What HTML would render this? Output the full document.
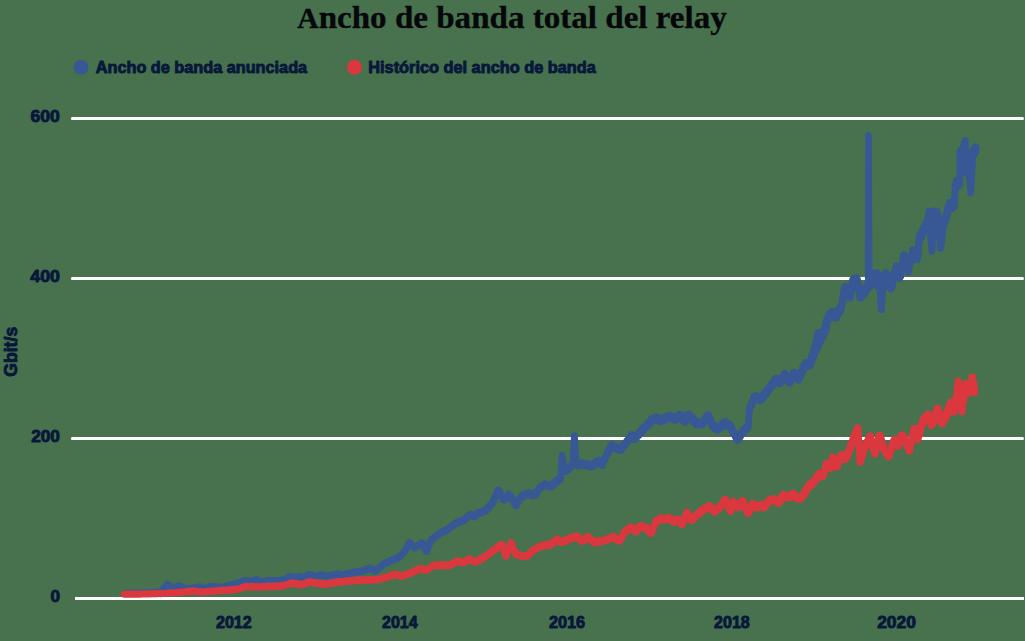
<!DOCTYPE html>
<html>
<head>
<meta charset="utf-8">
<title>Ancho de banda total del relay</title>
<style>
html,body{margin:0;padding:0;background:#47724d;overflow:hidden;}
svg{display:block;}
.t{font-family:"Liberation Serif",serif;font-weight:bold;fill:#06070b;stroke:#06070b;stroke-width:0.35px;}
.s{font-family:"Liberation Sans",sans-serif;font-weight:bold;fill:#08183a;stroke:#08183a;stroke-width:0.9px;stroke-linejoin:round;}
</style>
</head>
<body>
<svg width="1025" height="641" viewBox="0 0 1025 641">
<rect x="0" y="0" width="1025" height="641" fill="#47724d"/>
<!-- title -->
<text class="t" x="297.3" y="27.8" font-size="32" textLength="429.5" lengthAdjust="spacingAndGlyphs"><tspan font-size="28.6">A</tspan>ncho de banda total del relay</text>
<!-- legend -->
<circle cx="81" cy="67.3" r="7.5" fill="#375894"/>
<text class="s" x="95.8" y="72.6" font-size="15.6" textLength="211.3" lengthAdjust="spacingAndGlyphs">Ancho de banda anunciada</text>
<circle cx="354.5" cy="67.3" r="7.5" fill="#da373e"/>
<text class="s" x="368.3" y="72.6" font-size="15.6" textLength="227.5" lengthAdjust="spacingAndGlyphs">Histórico del ancho de banda</text>
<!-- gridlines -->
<g stroke="#ffffff" stroke-width="3" stroke-linecap="round">
<line x1="72.4" y1="118.5" x2="1022.5" y2="118.5"/>
<line x1="72.4" y1="278.5" x2="1022.5" y2="278.5"/>
<line x1="72.4" y1="438.5" x2="1022.5" y2="438.5"/>
<line x1="75" y1="598.5" x2="1024" y2="598.5" stroke-linecap="butt"/>
</g>
<!-- data -->
<g fill="none" stroke-linejoin="round" stroke-linecap="round" stroke-width="6.7">
<path stroke="#375894" d="M124.5 593.6 L124.8 593.5 L125.1 593.7 L125.4 593.5 L125.7 593.6 L126.0 593.4 L126.3 593.6 L126.6 593.4 L126.9 593.5 L127.2 593.4 L127.6 593.5 L127.9 593.3 L128.2 593.5 L128.5 593.3 L128.8 593.4 L129.1 593.3 L129.4 593.4 L129.7 593.2 L130.0 593.3 L130.3 593.2 L130.6 593.4 L130.9 593.2 L131.2 593.4 L131.5 593.2 L131.8 593.3 L132.1 593.2 L132.4 593.4 L132.7 593.2 L133.0 593.4 L133.3 593.2 L133.6 593.3 L133.9 593.2 L134.2 593.3 L134.5 593.2 L134.8 593.3 L135.2 593.2 L135.5 593.3 L135.8 593.2 L136.1 593.3 L136.4 593.2 L136.7 593.3 L137.0 593.2 L137.3 593.3 L137.6 593.1 L137.9 593.3 L138.2 593.1 L138.5 593.3 L138.8 593.1 L139.1 593.3 L139.4 593.1 L139.7 593.3 L140.0 593.2 L140.3 593.3 L140.6 593.1 L140.9 593.2 L141.2 593.1 L141.5 593.2 L141.8 593.1 L142.1 593.2 L142.4 593.0 L142.7 593.2 L143.0 593.0 L143.3 593.2 L143.6 593.0 L143.9 593.2 L144.2 593.0 L144.5 593.2 L144.8 593.0 L145.2 593.1 L145.5 592.9 L145.8 593.1 L146.1 592.9 L146.4 593.1 L146.7 592.9 L147.0 593.1 L147.3 592.9 L147.6 593.1 L147.9 592.9 L148.2 593.0 L148.5 592.9 L148.8 593.0 L149.1 592.8 L149.4 593.0 L149.7 592.8 L150.0 593.0 L150.3 592.8 L150.6 593.0 L150.9 592.8 L151.2 593.0 L151.5 592.8 L151.8 592.9 L152.1 592.7 L152.4 592.9 L152.7 592.7 L153.0 592.9 L153.3 592.7 L153.6 592.9 L153.9 592.7 L154.2 592.8 L154.5 592.7 L154.8 592.9 L155.2 592.7 L155.5 592.8 L155.8 592.7 L156.1 592.8 L156.4 592.6 L156.7 592.8 L157.0 592.6 L157.3 592.8 L157.6 592.6 L157.9 592.8 L158.2 592.6 L158.5 592.7 L158.8 592.5 L159.1 592.7 L159.4 592.5 L159.7 592.7 L160.0 592.6 L160.3 592.3 L160.6 591.7 L161.0 591.6 L161.3 591.0 L161.6 590.9 L161.9 590.2 L162.2 590.1 L162.5 589.5 L162.9 589.4 L163.2 588.7 L163.5 588.5 L163.8 588.1 L164.1 587.9 L164.4 587.4 L164.8 587.3 L165.1 586.7 L165.4 586.6 L165.7 586.0 L166.0 586.0 L166.3 585.4 L166.7 585.3 L167.0 584.8 L167.3 584.7 L167.6 584.2 L167.9 584.6 L168.2 584.6 L168.6 585.2 L168.9 585.2 L169.2 585.8 L169.5 585.7 L169.8 586.2 L170.1 586.3 L170.5 586.8 L170.8 586.8 L171.1 587.3 L171.4 587.4 L171.7 587.9 L172.1 587.9 L172.4 588.5 L172.7 588.6 L173.0 588.6 L173.3 588.2 L173.6 588.3 L173.9 587.8 L174.2 588.0 L174.5 587.6 L174.8 587.7 L175.1 587.3 L175.4 587.4 L175.8 587.0 L176.1 587.1 L176.4 586.6 L176.7 586.8 L177.0 586.4 L177.3 586.5 L177.6 586.0 L177.9 586.2 L178.2 585.7 L178.5 585.7 L178.8 585.7 L179.1 586.1 L179.4 585.9 L179.7 586.3 L180.1 586.2 L180.4 586.6 L180.7 586.4 L181.0 586.8 L181.3 586.7 L181.6 587.0 L181.9 586.9 L182.2 587.3 L182.6 587.2 L182.9 587.5 L183.2 587.4 L183.5 587.8 L183.8 587.7 L184.1 588.1 L184.4 587.9 L184.7 588.3 L185.0 588.2 L185.4 588.5 L185.7 588.4 L186.0 588.7 L186.3 588.6 L186.6 588.9 L186.9 588.7 L187.2 589.0 L187.5 588.7 L187.8 588.9 L188.1 588.7 L188.4 588.9 L188.8 588.6 L189.1 588.8 L189.4 588.5 L189.7 588.7 L190.0 588.4 L190.3 588.7 L190.6 588.4 L190.9 588.6 L191.2 588.4 L191.5 588.6 L191.8 588.3 L192.2 588.5 L192.5 588.2 L192.8 588.5 L193.1 588.2 L193.4 588.4 L193.7 588.1 L194.0 588.2 L194.3 588.0 L194.6 588.2 L194.9 587.8 L195.2 588.1 L195.5 587.7 L195.9 587.9 L196.2 587.6 L196.5 587.7 L196.8 587.4 L197.1 587.6 L197.4 587.3 L197.7 587.5 L198.0 587.2 L198.3 587.3 L198.6 587.0 L199.0 587.2 L199.3 586.8 L199.6 587.0 L199.9 586.7 L200.2 586.9 L200.5 586.7 L200.8 587.0 L201.1 586.9 L201.4 587.3 L201.7 587.2 L202.0 587.6 L202.3 587.5 L202.6 587.9 L202.9 587.7 L203.2 588.1 L203.5 588.1 L203.8 588.4 L204.1 588.3 L204.4 588.7 L204.7 588.7 L205.0 588.9 L205.3 588.6 L205.6 588.8 L205.9 588.4 L206.2 588.5 L206.6 588.1 L206.9 588.2 L207.2 587.8 L207.5 587.9 L207.8 587.5 L208.1 587.6 L208.4 587.3 L208.8 587.4 L209.1 587.0 L209.4 587.1 L209.7 586.7 L210.0 586.7 L210.3 586.6 L210.6 586.8 L210.9 586.6 L211.2 586.9 L211.5 586.5 L211.8 586.9 L212.1 586.6 L212.4 586.8 L212.7 586.6 L213.0 586.9 L213.3 586.6 L213.7 586.8 L214.0 586.6 L214.3 586.8 L214.6 586.5 L214.9 586.8 L215.2 586.6 L215.5 586.9 L215.8 586.6 L216.1 586.8 L216.4 586.6 L216.7 586.8 L217.0 586.6 L217.3 586.7 L217.6 586.7 L217.9 587.0 L218.2 586.8 L218.5 587.2 L218.8 587.0 L219.2 587.3 L219.5 587.2 L219.8 587.5 L220.1 587.3 L220.4 587.6 L220.7 587.5 L221.0 587.7 L221.3 587.5 L221.6 587.7 L221.9 587.3 L222.2 587.5 L222.5 587.2 L222.8 587.4 L223.2 587.1 L223.5 587.2 L223.8 586.9 L224.1 587.1 L224.4 586.7 L224.7 586.9 L225.0 586.6 L225.3 586.8 L225.6 586.4 L225.9 586.6 L226.2 586.2 L226.5 586.5 L226.8 586.1 L227.2 586.3 L227.5 586.0 L227.8 586.2 L228.1 585.8 L228.4 586.0 L228.7 585.6 L229.0 585.7 L229.3 585.5 L229.6 585.6 L229.9 585.3 L230.2 585.5 L230.5 585.1 L230.8 585.3 L231.1 584.9 L231.4 585.1 L231.7 584.7 L232.0 584.9 L232.3 584.5 L232.6 584.7 L232.9 584.3 L233.2 584.6 L233.6 584.1 L233.9 584.4 L234.2 584.0 L234.5 584.2 L234.8 583.7 L235.1 584.0 L235.4 583.6 L235.7 583.8 L236.0 583.4 L236.3 583.6 L236.6 583.2 L236.9 583.5 L237.2 583.0 L237.5 583.3 L237.8 583.0 L238.1 583.0 L238.4 582.6 L238.7 582.9 L239.0 582.4 L239.3 582.6 L239.7 582.2 L240.0 582.4 L240.3 581.9 L240.6 582.2 L240.9 581.7 L241.2 582.0 L241.5 581.5 L241.8 581.7 L242.1 581.3 L242.4 581.5 L242.7 581.1 L243.0 581.3 L243.3 580.9 L243.7 581.1 L244.0 580.7 L244.3 580.9 L244.6 580.4 L244.9 580.7 L245.2 580.4 L245.5 580.6 L245.8 580.4 L246.1 580.9 L246.4 580.6 L246.7 581.0 L247.0 580.7 L247.3 581.1 L247.6 580.9 L247.9 581.3 L248.3 581.0 L248.6 581.4 L248.9 581.2 L249.2 581.6 L249.5 581.3 L249.8 581.8 L250.1 581.5 L250.4 581.9 L250.7 581.6 L251.0 581.9 L251.3 581.5 L251.6 581.8 L251.9 581.3 L252.2 581.5 L252.5 580.9 L252.8 581.2 L253.1 580.6 L253.4 580.9 L253.7 580.4 L254.0 580.6 L254.3 580.1 L254.6 580.3 L254.9 579.8 L255.2 580.0 L255.5 579.5 L255.8 579.7 L256.1 579.4 L256.4 579.8 L256.7 579.5 L257.0 580.0 L257.3 579.9 L257.6 580.4 L257.9 580.2 L258.2 580.8 L258.5 580.6 L258.9 581.1 L259.2 580.9 L259.5 581.4 L259.8 581.3 L260.1 581.8 L260.4 581.6 L260.7 582.1 L261.0 581.9 L261.3 582.3 L261.6 582.1 L261.9 582.3 L262.2 581.9 L262.6 582.1 L262.9 581.7 L263.2 582.0 L263.5 581.6 L263.8 581.8 L264.1 581.4 L264.5 581.7 L264.8 581.2 L265.1 581.4 L265.4 581.0 L265.7 581.3 L266.1 580.9 L266.4 581.2 L266.7 580.7 L267.0 580.8 L267.3 580.6 L267.6 580.9 L267.9 580.6 L268.2 581.0 L268.5 580.6 L268.8 581.0 L269.1 580.6 L269.4 581.0 L269.7 580.7 L270.0 581.0 L270.3 580.6 L270.6 580.9 L270.9 580.6 L271.2 581.0 L271.5 580.6 L271.8 581.0 L272.1 580.6 L272.4 581.0 L272.7 580.6 L273.0 581.0 L273.3 580.6 L273.7 580.9 L274.0 580.6 L274.3 581.0 L274.6 580.6 L274.9 581.0 L275.2 580.6 L275.5 581.0 L275.8 580.7 L276.1 581.0 L276.4 580.6 L276.7 581.0 L277.0 580.6 L277.3 581.0 L277.6 580.6 L277.9 581.0 L278.2 580.6 L278.5 581.0 L278.8 580.6 L279.1 580.9 L279.4 580.6 L279.7 581.0 L280.0 580.8 L280.3 580.9 L280.6 580.4 L280.9 580.7 L281.3 580.3 L281.6 580.6 L281.9 580.1 L282.2 580.4 L282.5 579.8 L282.8 580.2 L283.1 579.7 L283.4 580.0 L283.8 579.5 L284.1 579.8 L284.4 579.3 L284.7 579.4 L285.0 579.0 L285.3 579.2 L285.6 578.7 L286.0 578.9 L286.3 578.3 L286.6 578.5 L286.9 578.0 L287.2 578.2 L287.5 577.5 L287.9 577.8 L288.2 577.2 L288.5 577.4 L288.8 576.8 L289.1 577.0 L289.4 576.5 L289.8 576.5 L290.1 576.3 L290.4 576.8 L290.7 576.4 L291.0 576.9 L291.3 576.6 L291.6 577.0 L291.9 576.7 L292.2 577.3 L292.5 576.8 L292.8 577.3 L293.1 577.0 L293.5 577.5 L293.8 577.1 L294.1 577.5 L294.4 577.3 L294.7 577.7 L295.0 577.4 L295.3 577.8 L295.6 577.7 L295.9 577.8 L296.2 577.3 L296.5 577.6 L296.8 577.1 L297.1 577.4 L297.4 576.9 L297.7 577.3 L298.0 576.7 L298.3 577.1 L298.6 576.6 L298.9 576.9 L299.2 576.3 L299.5 576.5 L299.8 576.4 L300.1 576.9 L300.4 576.6 L300.7 577.2 L301.0 576.9 L301.3 577.4 L301.6 577.2 L301.9 577.7 L302.2 577.3 L302.5 577.9 L302.8 577.6 L303.1 578.1 L303.4 578.0 L303.7 578.1 L304.0 577.5 L304.3 577.7 L304.6 577.0 L305.0 577.3 L305.3 576.6 L305.6 576.8 L305.9 576.2 L306.2 576.5 L306.5 575.8 L306.8 576.1 L307.1 575.4 L307.4 575.6 L307.7 574.9 L308.0 575.2 L308.3 574.5 L308.7 574.7 L309.0 574.2 L309.3 574.1 L309.6 574.1 L309.9 574.7 L310.2 574.2 L310.5 574.8 L310.8 574.5 L311.1 575.1 L311.4 574.8 L311.7 575.4 L312.0 575.0 L312.3 575.7 L312.7 575.3 L313.0 575.8 L313.3 575.5 L313.6 576.1 L313.9 575.8 L314.2 576.4 L314.5 576.1 L314.8 576.6 L315.1 576.5 L315.4 576.6 L315.7 576.2 L316.0 576.5 L316.4 576.0 L316.7 576.4 L317.0 575.8 L317.3 576.2 L317.6 575.7 L317.9 576.0 L318.2 575.5 L318.5 575.9 L318.8 575.4 L319.1 575.7 L319.4 575.2 L319.7 575.6 L320.1 575.1 L320.4 575.5 L320.7 575.0 L321.0 575.1 L321.3 575.0 L321.6 575.5 L321.9 575.0 L322.2 575.5 L322.5 575.0 L322.8 575.6 L323.1 575.2 L323.4 575.6 L323.7 575.2 L324.0 575.7 L324.3 575.3 L324.6 575.8 L324.9 575.4 L325.2 575.9 L325.5 575.5 L325.8 576.0 L326.1 575.5 L326.4 576.0 L326.7 575.7 L327.0 576.1 L327.3 575.7 L327.6 576.1 L327.9 575.8 L328.2 576.3 L328.5 575.8 L328.8 576.1 L329.1 575.8 L329.4 576.1 L329.7 575.6 L330.0 576.0 L330.3 575.5 L330.6 575.9 L330.9 575.3 L331.2 575.7 L331.5 575.2 L331.8 575.5 L332.1 575.1 L332.4 575.4 L332.7 574.9 L333.0 575.3 L333.3 574.8 L333.6 575.2 L333.9 574.6 L334.2 575.0 L334.5 574.5 L334.8 574.8 L335.1 574.2 L335.4 574.7 L335.7 574.2 L336.0 574.5 L336.3 574.0 L336.6 574.1 L336.9 573.9 L337.2 574.4 L337.5 574.0 L337.8 574.6 L338.1 574.1 L338.4 574.7 L338.7 574.2 L339.1 574.8 L339.4 574.3 L339.7 574.8 L340.0 574.4 L340.3 575.0 L340.6 574.6 L340.9 575.0 L341.2 574.7 L341.5 575.2 L341.8 574.8 L342.1 575.3 L342.4 575.1 L342.7 575.3 L343.0 574.8 L343.4 575.1 L343.7 574.6 L344.0 574.9 L344.3 574.3 L344.6 574.9 L344.9 574.2 L345.2 574.6 L345.5 574.1 L345.8 574.5 L346.1 573.9 L346.4 574.4 L346.7 573.8 L347.0 574.1 L347.3 573.6 L347.6 574.1 L347.9 573.4 L348.2 573.8 L348.5 573.3 L348.8 573.7 L349.1 573.2 L349.5 573.6 L349.8 573.0 L350.1 573.4 L350.4 572.9 L350.7 573.3 L351.0 572.6 L351.3 573.1 L351.6 572.5 L351.9 573.0 L352.2 572.6 L352.5 572.8 L352.8 572.2 L353.1 572.7 L353.4 572.1 L353.7 572.7 L354.0 572.0 L354.3 572.5 L354.6 571.9 L354.9 572.5 L355.2 571.8 L355.5 572.3 L355.9 571.8 L356.2 572.3 L356.5 571.8 L356.8 572.3 L357.1 571.7 L357.4 572.1 L357.7 571.6 L358.0 572.0 L358.3 571.5 L358.6 572.0 L358.9 571.4 L359.2 571.9 L359.5 571.3 L359.8 571.8 L360.1 571.2 L360.4 571.7 L360.7 571.1 L361.0 571.7 L361.3 571.1 L361.6 571.5 L362.0 571.2 L362.3 571.4 L362.6 570.7 L362.9 571.1 L363.2 570.5 L363.5 571.0 L363.8 570.2 L364.1 570.6 L364.4 570.1 L364.7 570.4 L365.0 569.9 L365.3 570.3 L365.6 569.6 L365.9 570.0 L366.2 569.4 L366.5 569.8 L366.8 569.2 L367.1 569.6 L367.4 568.9 L367.7 569.4 L368.0 568.7 L368.3 569.1 L368.6 568.5 L368.9 568.9 L369.2 568.2 L369.5 568.7 L369.8 568.3 L370.1 568.8 L370.4 568.4 L370.7 569.1 L371.0 568.7 L371.3 569.4 L371.6 569.0 L371.9 569.6 L372.2 569.2 L372.5 569.9 L372.8 569.6 L373.1 570.3 L373.5 569.9 L373.8 570.6 L374.1 570.2 L374.4 570.9 L374.7 570.4 L375.0 571.2 L375.3 570.7 L375.6 571.2 L375.9 570.7 L376.2 571.0 L376.5 570.2 L376.8 570.4 L377.1 569.7 L377.4 569.9 L377.7 569.0 L378.0 569.4 L378.3 568.5 L378.6 568.8 L378.9 568.1 L379.2 568.3 L379.5 567.5 L379.8 567.9 L380.1 567.0 L380.4 567.3 L380.7 566.4 L381.0 566.9 L381.3 565.9 L381.6 566.2 L381.9 565.4 L382.2 565.7 L382.5 564.8 L382.8 565.2 L383.1 564.3 L383.4 564.4 L383.7 563.9 L384.0 564.4 L384.3 563.6 L384.6 564.1 L384.9 563.2 L385.2 563.8 L385.5 563.0 L385.8 563.6 L386.1 562.8 L386.4 563.3 L386.7 562.4 L387.0 562.9 L387.3 562.1 L387.6 562.7 L387.9 561.7 L388.2 562.4 L388.5 561.5 L388.8 561.9 L389.1 561.2 L389.4 561.7 L389.7 560.8 L390.0 561.5 L390.3 560.7 L390.6 561.2 L390.9 560.3 L391.2 560.5 L391.5 560.1 L391.8 560.6 L392.1 559.7 L392.4 560.4 L392.7 559.6 L393.0 560.2 L393.3 559.4 L393.6 560.0 L393.9 559.1 L394.2 559.8 L394.5 558.9 L394.8 559.6 L395.1 558.6 L395.4 559.2 L395.7 558.3 L396.0 559.1 L396.3 558.2 L396.6 558.8 L396.9 558.1 L397.2 558.6 L397.5 557.7 L397.8 558.4 L398.1 557.6 L398.4 558.1 L398.7 557.3 L399.0 557.6 L399.3 556.8 L399.6 557.2 L399.9 556.1 L400.3 556.5 L400.6 555.5 L400.9 555.8 L401.2 554.8 L401.5 555.2 L401.8 554.0 L402.1 554.7 L402.4 553.5 L402.7 553.9 L403.0 552.6 L403.3 553.2 L403.6 552.1 L404.0 552.5 L404.3 551.5 L404.6 551.8 L404.9 551.1 L405.2 551.0 L405.5 549.6 L405.8 550.1 L406.1 548.6 L406.4 548.8 L406.7 547.3 L407.0 547.8 L407.3 546.3 L407.6 546.8 L407.9 545.2 L408.2 545.6 L408.5 544.3 L408.8 544.7 L409.1 543.1 L409.5 543.6 L409.8 542.5 L410.1 543.4 L410.4 542.6 L410.7 543.9 L411.0 543.4 L411.3 544.8 L411.6 544.0 L411.9 545.3 L412.2 544.7 L412.5 545.9 L412.8 545.3 L413.1 546.5 L413.4 545.9 L413.7 547.3 L414.0 546.7 L414.3 548.0 L414.6 547.8 L414.9 548.0 L415.2 547.0 L415.5 547.6 L415.8 546.6 L416.1 547.4 L416.4 546.2 L416.7 546.9 L417.0 545.8 L417.3 546.5 L417.6 545.5 L417.9 546.2 L418.2 545.0 L418.5 545.9 L418.8 544.7 L419.1 545.5 L419.4 544.4 L419.7 545.2 L420.0 543.9 L420.3 544.7 L420.6 543.6 L420.9 544.4 L421.2 543.2 L421.5 543.9 L421.8 542.7 L422.1 543.6 L422.4 542.9 L422.7 544.1 L423.0 543.8 L423.3 545.5 L423.6 545.3 L423.9 546.7 L424.2 546.6 L424.5 548.1 L424.8 547.9 L425.1 549.5 L425.4 549.2 L425.7 550.8 L426.0 550.6 L426.3 551.7 L426.6 550.5 L427.0 550.6 L427.3 549.0 L427.6 549.3 L427.9 547.5 L428.2 547.7 L428.5 546.1 L428.8 546.4 L429.1 544.6 L429.4 545.0 L429.7 543.1 L430.0 543.5 L430.3 541.6 L430.6 542.0 L430.9 540.1 L431.2 540.0 L431.5 539.4 L431.8 540.1 L432.1 538.7 L432.4 539.6 L432.7 538.4 L433.0 539.0 L433.3 537.8 L433.6 538.7 L433.9 537.4 L434.2 538.1 L434.6 537.0 L434.9 537.6 L435.2 536.3 L435.5 537.4 L435.8 535.8 L436.1 536.7 L436.4 535.4 L436.7 536.2 L437.0 534.9 L437.3 535.8 L437.6 534.7 L437.9 535.4 L438.2 534.1 L438.5 534.8 L438.8 533.7 L439.1 534.4 L439.4 533.1 L439.7 534.1 L440.0 533.2 L440.3 533.4 L440.6 532.2 L440.9 533.2 L441.2 532.1 L441.5 533.0 L441.8 531.7 L442.1 532.6 L442.4 531.4 L442.7 532.3 L443.0 531.0 L443.3 532.0 L443.6 530.7 L443.9 531.9 L444.2 530.5 L444.5 531.3 L444.8 530.1 L445.1 531.0 L445.4 529.9 L445.7 530.9 L446.0 529.7 L446.3 530.7 L446.6 529.2 L446.9 530.3 L447.2 529.0 L447.5 530.0 L447.8 529.3 L448.1 529.7 L448.4 528.3 L448.7 529.3 L449.0 527.6 L449.3 528.9 L449.6 527.1 L449.9 528.2 L450.2 526.7 L450.5 527.7 L450.8 526.4 L451.1 527.3 L451.4 526.0 L451.7 527.0 L452.0 525.4 L452.3 526.5 L452.6 525.1 L452.9 526.0 L453.2 524.6 L453.5 525.5 L453.8 524.2 L454.1 525.3 L454.4 523.7 L454.7 524.7 L455.0 523.3 L455.3 524.4 L455.6 523.4 L455.9 523.8 L456.2 522.6 L456.5 523.8 L456.8 522.2 L457.1 523.7 L457.4 522.0 L457.7 523.5 L458.0 521.7 L458.3 523.1 L458.6 521.5 L458.9 522.7 L459.2 521.5 L459.5 522.4 L459.8 521.0 L460.1 522.5 L460.4 520.9 L460.7 522.1 L461.0 520.8 L461.3 521.8 L461.6 520.4 L461.9 521.9 L462.2 520.3 L462.5 521.3 L462.8 520.2 L463.1 521.2 L463.4 520.5 L463.7 521.1 L464.0 519.2 L464.3 520.4 L464.7 518.9 L465.0 519.7 L465.3 518.3 L465.6 519.4 L465.9 517.7 L466.2 519.0 L466.5 517.0 L466.8 518.4 L467.1 516.6 L467.5 517.9 L467.8 516.2 L468.1 517.0 L468.4 515.5 L468.7 516.7 L469.0 515.1 L469.3 516.0 L469.6 514.6 L469.9 515.8 L470.2 514.6 L470.5 515.6 L470.9 514.0 L471.2 515.9 L471.5 514.4 L471.8 516.1 L472.1 514.7 L472.4 516.3 L472.7 514.8 L473.0 516.3 L473.3 515.3 L473.6 516.6 L473.9 515.4 L474.2 516.9 L474.5 515.8 L474.8 517.3 L475.1 516.6 L475.5 516.8 L475.8 514.6 L476.2 515.2 L476.6 514.1 L476.9 514.8 L477.2 513.1 L477.5 514.3 L477.8 513.0 L478.1 514.3 L478.4 512.5 L478.7 514.0 L479.0 512.4 L479.3 513.7 L479.6 512.3 L479.9 513.7 L480.2 512.0 L480.5 513.2 L480.8 511.7 L481.1 512.9 L481.4 511.6 L481.7 512.9 L482.0 511.2 L482.3 512.7 L482.6 511.0 L482.9 512.4 L483.2 511.0 L483.5 512.3 L483.8 510.8 L484.1 512.0 L484.4 510.4 L484.7 511.8 L485.0 510.1 L485.3 510.8 L485.6 509.8 L485.9 511.0 L486.2 509.0 L486.5 510.3 L486.8 508.6 L487.2 509.9 L487.5 507.8 L487.8 508.9 L488.1 507.3 L488.4 508.7 L488.7 506.7 L489.0 507.8 L489.3 505.8 L489.7 507.4 L490.0 505.3 L490.3 506.7 L490.6 504.9 L490.9 505.8 L491.2 503.8 L491.5 505.5 L491.8 504.2 L492.1 504.2 L492.5 502.3 L492.8 502.9 L493.1 500.5 L493.4 501.6 L493.7 499.3 L494.0 500.6 L494.3 497.9 L494.6 499.2 L495.0 496.7 L495.3 497.5 L495.6 495.5 L495.9 496.5 L496.2 494.1 L496.5 495.2 L496.8 492.4 L497.1 493.5 L497.4 491.0 L497.8 492.1 L498.1 489.8 L498.4 490.0 L498.7 489.9 L499.0 492.2 L499.3 490.6 L499.6 493.3 L499.9 492.1 L500.2 494.4 L500.5 492.9 L500.8 495.5 L501.1 494.1 L501.4 496.4 L501.7 495.1 L502.0 497.6 L502.3 496.5 L502.6 498.3 L502.9 497.4 L503.2 499.5 L503.5 498.5 L503.8 499.9 L504.1 499.0 L504.4 500.2 L504.8 498.3 L505.1 499.7 L505.4 497.3 L505.7 498.9 L506.0 497.1 L506.3 498.4 L506.6 496.4 L506.9 497.7 L507.2 495.9 L507.5 497.3 L507.8 495.0 L508.1 496.4 L508.4 494.6 L508.7 496.0 L509.0 493.7 L509.3 494.4 L509.6 493.9 L509.9 496.1 L510.2 495.2 L510.5 497.3 L510.9 496.0 L511.2 498.2 L511.5 497.1 L511.8 499.7 L512.1 498.1 L512.4 500.2 L512.7 499.5 L513.0 501.3 L513.4 500.2 L513.7 502.6 L514.0 501.4 L514.3 503.5 L514.6 502.5 L514.9 504.6 L515.2 503.4 L515.5 505.8 L515.9 505.3 L516.2 505.8 L516.5 503.4 L516.8 504.9 L517.1 502.4 L517.4 503.8 L517.7 501.8 L518.0 502.8 L518.3 500.4 L518.6 501.8 L518.9 499.5 L519.2 500.7 L519.5 498.4 L519.8 499.8 L520.1 497.6 L520.4 498.8 L520.7 496.8 L521.0 497.9 L521.3 496.6 L521.6 497.2 L521.9 495.7 L522.2 497.0 L522.5 495.0 L522.8 496.9 L523.1 494.7 L523.4 496.7 L523.8 494.5 L524.1 496.5 L524.4 494.3 L524.7 495.9 L525.0 494.3 L525.3 495.7 L525.6 494.1 L525.9 495.4 L526.2 493.4 L526.5 495.5 L526.8 493.4 L527.1 495.1 L527.4 492.9 L527.7 494.9 L528.0 492.7 L528.3 494.5 L528.6 492.8 L529.0 493.3 L529.3 492.4 L529.6 494.4 L529.9 492.7 L530.2 494.6 L530.5 493.0 L530.8 495.2 L531.1 493.5 L531.4 495.2 L531.7 493.4 L532.0 495.4 L532.3 493.5 L532.6 495.6 L532.9 493.8 L533.2 496.0 L533.5 494.0 L533.8 495.9 L534.1 494.6 L534.4 495.5 L534.7 494.3 L535.0 495.7 L535.3 493.6 L535.6 494.6 L535.9 492.4 L536.2 494.1 L536.5 491.8 L536.8 493.0 L537.1 490.7 L537.4 492.3 L537.7 489.8 L538.0 491.5 L538.4 489.2 L538.7 490.4 L539.0 488.5 L539.3 489.7 L539.6 487.5 L539.9 487.9 L540.2 486.9 L540.5 488.7 L540.8 486.3 L541.1 488.1 L541.4 485.9 L541.7 487.8 L542.0 485.5 L542.3 487.2 L542.6 485.5 L542.9 486.8 L543.2 485.2 L543.5 486.6 L543.8 484.7 L544.1 486.1 L544.4 484.2 L544.7 486.2 L545.0 483.7 L545.3 484.6 L545.6 483.9 L545.9 485.9 L546.2 484.2 L546.5 485.8 L546.8 484.3 L547.1 486.2 L547.5 484.4 L547.8 486.5 L548.1 484.6 L548.4 486.5 L548.7 484.7 L549.0 486.9 L549.3 485.0 L549.6 487.0 L549.9 485.3 L550.2 487.3 L550.5 485.5 L550.8 486.8 L551.1 485.3 L551.4 487.2 L551.7 485.0 L552.0 486.2 L552.3 484.5 L552.6 486.1 L552.9 483.9 L553.2 485.4 L553.5 483.0 L553.8 484.8 L554.1 482.6 L554.4 483.9 L554.7 482.1 L555.0 483.8 L555.3 481.3 L555.6 483.0 L555.9 480.6 L556.2 481.3 L556.6 480.3 L556.9 481.7 L557.2 480.1 L557.5 481.9 L557.8 479.7 L558.1 481.6 L558.4 479.3 L558.7 481.2 L559.1 479.1 L559.4 480.9 L559.7 478.7 L560.0 480.4 L560.3 478.3 L560.6 479.1 L560.7 477.1 L560.8 477.6 L560.8 474.3 L560.9 475.2 L561.0 472.1 L561.1 473.2 L561.1 469.8 L561.2 470.4 L561.3 467.4 L561.4 468.2 L561.5 464.9 L561.5 465.9 L561.6 462.4 L561.7 463.7 L561.8 460.3 L561.8 461.2 L561.9 457.3 L562.0 458.5 L562.1 455.4 L562.1 455.1 L562.3 455.2 L562.5 458.6 L562.7 457.8 L562.9 461.5 L563.0 460.6 L563.2 463.6 L563.4 462.9 L563.6 466.2 L563.8 465.6 L564.0 468.9 L564.1 468.3 L564.3 470.4 L564.7 469.6 L565.0 471.4 L565.4 469.3 L565.7 471.7 L566.1 470.4 L566.4 471.3 L566.7 469.1 L567.0 470.6 L567.3 468.2 L567.6 470.4 L567.9 467.7 L568.3 470.1 L568.6 467.2 L568.9 469.1 L569.2 466.7 L569.5 468.9 L569.8 466.6 L570.1 468.2 L570.4 467.1 L570.8 467.9 L571.1 465.1 L571.4 466.3 L571.7 464.0 L572.1 465.8 L572.4 462.7 L572.7 464.6 L573.1 462.8 L573.1 462.4 L573.2 459.1 L573.2 460.1 L573.3 456.8 L573.4 457.9 L573.4 454.2 L573.5 455.0 L573.5 451.3 L573.6 452.8 L573.7 449.3 L573.7 450.0 L573.8 446.5 L573.8 447.9 L573.9 444.5 L573.9 445.4 L574.0 441.4 L574.1 443.0 L574.1 439.3 L574.2 440.5 L574.2 436.5 L574.3 438.2 L574.4 435.5 L574.4 437.8 L574.5 436.4 L574.6 440.9 L574.7 438.9 L574.8 443.2 L574.8 441.7 L574.9 445.7 L575.0 444.3 L575.1 447.7 L575.2 446.5 L575.2 450.7 L575.3 449.4 L575.4 452.6 L575.5 451.9 L575.6 455.2 L575.6 454.4 L575.7 457.5 L575.8 456.4 L575.9 460.3 L576.0 458.8 L576.0 462.6 L576.1 462.8 L576.4 464.4 L576.8 462.7 L577.1 465.3 L577.4 463.3 L577.8 465.7 L578.1 464.9 L578.4 466.0 L578.7 463.4 L579.0 465.9 L579.3 463.2 L579.6 465.8 L579.9 463.6 L580.2 465.9 L580.5 463.5 L580.8 465.8 L581.1 463.2 L581.4 465.2 L581.7 462.8 L582.0 465.2 L582.3 463.0 L582.6 465.1 L582.9 462.7 L583.2 464.7 L583.5 463.8 L583.8 465.0 L584.1 463.1 L584.4 465.4 L584.7 463.3 L585.0 465.4 L585.3 463.3 L585.6 465.5 L585.9 463.3 L586.2 465.8 L586.5 463.7 L586.8 465.6 L587.2 463.9 L587.5 466.2 L587.8 464.0 L588.1 465.9 L588.4 463.9 L588.7 466.3 L589.0 463.8 L589.3 466.1 L589.6 464.4 L589.9 466.3 L590.2 464.3 L590.5 466.7 L590.8 464.6 L591.1 467.1 L591.4 464.6 L591.7 467.2 L592.0 464.5 L592.3 466.0 L592.6 464.8 L592.9 466.9 L593.2 464.2 L593.5 465.8 L593.8 463.3 L594.1 465.3 L594.5 463.4 L594.8 464.9 L595.1 462.7 L595.4 464.9 L595.7 461.8 L596.0 464.0 L596.3 461.5 L596.6 463.8 L596.9 460.8 L597.3 463.1 L597.6 460.4 L597.9 462.2 L598.2 460.1 L598.5 462.1 L598.8 460.6 L599.1 462.2 L599.5 460.1 L599.8 463.3 L600.1 460.9 L600.5 463.7 L600.8 462.3 L601.1 465.0 L601.4 462.9 L601.8 465.4 L602.1 464.9 L602.4 465.5 L602.7 462.6 L603.0 463.8 L603.3 461.1 L603.7 462.6 L604.0 459.4 L604.3 460.9 L604.6 458.0 L604.9 459.9 L605.2 456.8 L605.5 458.5 L605.8 455.1 L606.2 456.7 L606.5 455.1 L606.8 455.8 L607.1 452.7 L607.4 454.8 L607.7 451.6 L608.0 453.4 L608.3 450.3 L608.6 452.7 L608.9 449.7 L609.2 451.4 L609.5 448.1 L609.8 450.1 L610.1 447.4 L610.4 449.6 L610.7 445.9 L611.0 448.0 L611.3 444.9 L611.6 447.0 L611.9 445.3 L612.2 446.8 L612.5 444.1 L612.8 446.7 L613.1 444.8 L613.4 447.1 L613.7 445.1 L614.0 447.3 L614.3 445.5 L614.6 447.8 L614.9 445.6 L615.2 447.9 L615.5 445.8 L615.8 448.8 L616.1 446.1 L616.4 448.7 L616.7 446.3 L617.0 449.1 L617.3 447.0 L617.6 449.4 L617.9 447.4 L618.2 449.8 L618.5 447.6 L618.8 449.9 L619.1 447.3 L619.5 450.5 L619.8 447.7 L620.1 450.7 L620.4 448.2 L620.7 449.7 L621.0 447.9 L621.3 450.5 L621.6 447.5 L621.9 449.7 L622.2 446.7 L622.5 448.6 L622.8 445.6 L623.1 448.1 L623.4 444.8 L623.7 447.6 L624.0 444.3 L624.3 446.3 L624.6 444.0 L624.9 445.9 L625.2 442.7 L625.5 445.0 L625.8 442.5 L626.1 443.1 L626.4 441.7 L626.7 443.3 L627.0 440.4 L627.3 442.3 L627.6 439.9 L627.9 441.7 L628.2 438.6 L628.5 441.4 L628.8 438.3 L629.1 439.9 L629.4 436.8 L629.8 439.7 L630.1 436.5 L630.4 438.4 L630.7 435.4 L631.0 437.5 L631.3 434.6 L631.6 435.5 L631.9 434.4 L632.2 437.3 L632.6 435.4 L632.9 437.8 L633.2 436.0 L633.5 438.5 L633.9 436.3 L634.2 439.6 L634.5 437.2 L634.8 438.7 L635.2 436.8 L635.5 439.5 L635.8 436.4 L636.1 438.6 L636.4 435.8 L636.7 438.2 L637.0 434.8 L637.3 436.8 L637.6 434.4 L637.9 436.6 L638.2 433.5 L638.5 435.9 L638.8 432.8 L639.1 435.3 L639.4 431.6 L639.7 434.0 L640.0 431.1 L640.3 432.2 L640.6 430.7 L640.9 433.2 L641.2 429.6 L641.5 432.6 L641.8 429.5 L642.1 431.5 L642.4 428.5 L642.7 431.3 L643.0 428.4 L643.3 430.4 L643.6 427.4 L643.9 429.7 L644.2 426.8 L644.5 429.2 L644.8 426.5 L645.2 428.8 L645.5 425.6 L645.8 428.4 L646.1 425.5 L646.4 427.8 L646.7 424.7 L647.0 426.9 L647.3 423.7 L647.6 426.6 L647.9 423.2 L648.2 426.2 L648.5 422.9 L648.8 425.1 L649.1 421.9 L649.4 424.5 L649.7 421.7 L650.0 422.6 L650.3 421.0 L650.7 423.5 L651.0 419.6 L651.3 422.7 L651.6 418.7 L652.0 421.9 L652.3 418.4 L652.6 419.3 L652.9 417.9 L653.3 420.8 L653.6 417.9 L653.9 420.5 L654.2 417.6 L654.5 419.7 L654.8 417.0 L655.1 419.6 L655.5 418.3 L655.8 420.3 L656.1 416.7 L656.4 420.1 L656.7 417.5 L657.0 420.0 L657.3 417.5 L657.6 420.6 L657.9 417.8 L658.2 421.0 L658.5 417.9 L658.8 421.3 L659.1 418.6 L659.4 421.0 L659.7 418.6 L660.0 421.5 L660.3 418.9 L660.6 421.9 L660.9 420.4 L661.2 421.5 L661.5 418.8 L661.8 421.5 L662.1 418.2 L662.5 421.5 L662.8 418.2 L663.1 420.9 L663.4 417.5 L663.7 421.1 L664.0 417.5 L664.3 420.1 L664.6 417.3 L664.9 420.3 L665.2 417.2 L665.5 419.5 L665.8 416.3 L666.1 420.0 L666.4 416.8 L666.8 419.3 L667.1 416.1 L667.4 418.9 L667.7 416.3 L668.0 419.0 L668.3 415.4 L668.6 418.5 L668.9 415.7 L669.2 418.2 L669.5 415.5 L669.8 418.4 L670.1 415.2 L670.4 417.5 L670.7 416.1 L671.1 418.1 L671.4 415.3 L671.7 417.9 L672.0 415.9 L672.3 418.5 L672.6 415.9 L672.9 419.5 L673.2 416.7 L673.5 419.4 L673.9 416.7 L674.2 420.1 L674.5 417.5 L674.8 420.3 L675.1 419.3 L675.4 420.4 L675.7 416.9 L676.0 419.8 L676.3 417.1 L676.6 419.8 L676.9 416.0 L677.2 419.5 L677.5 415.9 L677.8 419.1 L678.1 415.3 L678.4 418.0 L678.7 414.9 L679.1 417.9 L679.4 414.2 L679.7 416.9 L680.0 414.2 L680.3 417.2 L680.6 415.0 L680.9 416.6 L681.2 414.1 L681.5 417.8 L681.8 415.6 L682.1 418.6 L682.4 416.3 L682.8 420.2 L683.1 417.5 L683.4 421.0 L683.7 418.3 L684.0 421.3 L684.3 418.9 L684.6 422.4 L684.9 421.5 L685.3 422.1 L685.6 418.8 L685.9 421.3 L686.2 417.1 L686.6 419.8 L686.9 416.5 L687.2 418.7 L687.6 414.7 L687.9 417.5 L688.2 415.0 L688.5 417.2 L688.8 414.2 L689.1 417.7 L689.4 414.4 L689.7 417.8 L690.0 415.4 L690.3 418.5 L690.6 416.0 L690.9 419.1 L691.2 416.8 L691.5 419.6 L691.8 416.7 L692.1 420.3 L692.4 417.6 L692.7 421.3 L693.0 418.1 L693.3 421.4 L693.6 418.5 L693.9 422.4 L694.2 419.1 L694.5 423.0 L694.8 419.9 L695.1 423.6 L695.4 420.9 L695.7 424.1 L696.0 421.4 L696.3 424.9 L696.6 422.3 L696.9 423.7 L697.3 422.2 L697.6 424.9 L697.9 421.8 L698.2 424.8 L698.5 421.7 L698.8 425.2 L699.1 421.6 L699.4 424.5 L699.8 421.4 L700.1 424.9 L700.4 421.5 L700.7 424.7 L701.0 422.0 L701.3 424.8 L701.6 421.4 L701.9 424.3 L702.2 421.5 L702.6 424.5 L702.9 421.0 L703.2 424.5 L703.5 422.6 L703.8 423.3 L704.1 420.2 L704.4 422.2 L704.7 419.3 L705.1 421.2 L705.4 418.3 L705.7 420.6 L706.0 417.0 L706.3 418.8 L706.6 416.0 L706.9 418.3 L707.2 414.8 L707.5 417.0 L707.9 415.0 L708.2 417.1 L708.5 414.6 L708.8 419.0 L709.1 416.4 L709.4 420.1 L709.7 417.3 L710.0 421.4 L710.4 418.8 L710.7 423.0 L711.0 420.7 L711.3 424.5 L711.6 421.9 L711.9 425.2 L712.2 424.8 L712.5 426.6 L712.8 423.6 L713.1 427.0 L713.4 424.3 L713.7 427.4 L714.0 424.5 L714.3 428.1 L714.7 425.6 L715.0 428.3 L715.3 425.9 L715.6 429.3 L715.9 426.1 L716.2 429.1 L716.5 426.4 L716.8 429.5 L717.1 427.2 L717.4 430.3 L717.7 429.2 L718.0 430.5 L718.3 427.3 L718.6 429.5 L718.9 426.7 L719.2 429.6 L719.5 425.9 L719.8 428.6 L720.1 425.9 L720.4 428.5 L720.7 424.9 L721.0 427.5 L721.4 424.3 L721.7 427.6 L722.0 424.1 L722.3 426.6 L722.6 423.4 L722.9 426.5 L723.2 423.3 L723.5 425.5 L723.8 422.6 L724.1 425.3 L724.4 422.2 L724.7 424.6 L725.0 421.4 L725.3 422.6 L725.6 421.3 L725.9 424.3 L726.2 421.5 L726.5 425.5 L726.8 422.3 L727.1 425.8 L727.5 423.1 L727.8 426.4 L728.1 423.3 L728.4 426.7 L728.7 423.5 L729.0 426.9 L729.3 424.0 L729.6 427.2 L729.9 425.2 L730.2 427.9 L730.5 425.0 L730.8 427.0 L731.1 425.9 L731.4 430.1 L731.8 427.5 L732.1 431.4 L732.4 428.8 L732.8 432.0 L733.1 430.1 L733.4 433.9 L733.7 431.6 L734.1 433.5 L734.4 432.6 L734.7 435.8 L735.0 434.0 L735.3 437.0 L735.6 434.9 L735.9 438.1 L736.2 436.3 L736.5 438.9 L736.8 437.2 L737.2 440.5 L737.5 438.0 L737.8 440.1 L738.1 438.4 L738.4 440.1 L738.7 437.1 L739.0 439.0 L739.3 435.9 L739.7 438.5 L740.0 435.1 L740.3 437.2 L740.6 433.6 L740.9 436.2 L741.2 432.5 L741.5 435.1 L741.9 431.8 L742.2 434.1 L742.5 430.2 L742.8 431.4 L743.1 430.1 L743.4 432.6 L743.7 429.3 L744.0 431.5 L744.3 429.1 L744.6 431.6 L744.9 428.1 L745.2 430.5 L745.5 427.8 L745.8 430.5 L746.1 426.9 L746.4 429.7 L746.7 426.6 L747.0 429.2 L747.3 426.5 L747.6 428.6 L748.0 425.9 L748.3 427.0 L748.3 424.2 L748.4 425.8 L748.5 422.1 L748.6 423.2 L748.6 419.6 L748.7 420.7 L748.8 416.9 L748.9 418.5 L749.0 414.5 L749.0 416.0 L749.1 411.8 L749.2 414.0 L749.3 409.2 L749.3 409.5 L749.7 406.8 L750.0 409.6 L750.3 406.0 L750.6 408.2 L750.9 404.5 L751.2 406.3 L751.5 403.0 L751.9 405.3 L752.2 400.7 L752.5 403.6 L752.8 399.8 L753.1 402.1 L753.4 398.2 L753.7 400.9 L754.1 396.7 L754.4 397.5 L754.7 396.2 L755.0 399.6 L755.3 395.9 L755.6 398.9 L755.9 395.7 L756.2 399.7 L756.5 396.3 L756.8 399.7 L757.1 395.9 L757.4 399.6 L757.7 396.4 L758.0 399.6 L758.3 396.4 L758.6 400.0 L758.9 396.3 L759.2 400.4 L759.5 397.0 L759.8 399.9 L760.1 396.4 L760.4 400.4 L760.7 396.8 L761.0 400.4 L761.4 398.6 L761.7 399.7 L762.0 395.7 L762.3 399.1 L762.6 395.4 L762.9 398.0 L763.2 394.9 L763.5 397.9 L763.8 393.5 L764.1 396.3 L764.4 393.1 L764.7 396.0 L765.0 392.2 L765.3 395.1 L765.6 391.0 L765.9 394.3 L766.2 390.6 L766.6 394.1 L766.9 389.7 L767.2 392.8 L767.5 389.2 L767.8 392.0 L768.1 388.1 L768.4 391.6 L768.7 387.7 L769.0 388.8 L769.3 386.7 L769.6 389.6 L769.9 385.9 L770.2 389.3 L770.6 384.9 L770.9 387.8 L771.2 384.3 L771.5 387.6 L771.8 383.6 L772.1 386.6 L772.4 382.9 L772.7 385.3 L773.1 382.0 L773.4 385.1 L773.7 381.1 L774.0 383.6 L774.3 380.4 L774.6 382.8 L774.9 378.8 L775.2 382.5 L775.5 380.0 L775.8 382.4 L776.2 378.0 L776.5 382.3 L776.8 378.3 L777.1 382.0 L777.4 378.5 L777.7 382.6 L778.0 379.5 L778.3 383.2 L778.6 379.1 L778.9 383.1 L779.2 380.1 L779.5 383.8 L779.8 379.7 L780.1 383.8 L780.4 379.7 L780.7 383.4 L781.0 382.2 L781.3 382.8 L781.7 379.3 L782.0 381.2 L782.3 377.1 L782.6 380.4 L783.0 376.2 L783.3 378.4 L783.6 374.6 L784.0 377.3 L784.3 374.6 L784.6 377.1 L784.9 373.1 L785.2 377.6 L785.5 373.9 L785.8 378.5 L786.1 375.4 L786.4 379.1 L786.7 376.4 L787.0 380.7 L787.3 376.5 L787.6 381.3 L787.9 378.2 L788.2 381.6 L788.5 379.1 L788.8 382.6 L789.1 379.3 L789.4 383.1 L789.7 382.2 L790.0 383.4 L790.4 379.0 L790.7 381.7 L791.0 378.0 L791.3 381.2 L791.6 376.6 L791.9 379.6 L792.2 375.0 L792.5 378.6 L792.9 374.3 L793.2 377.1 L793.5 372.4 L793.8 376.4 L794.1 373.5 L794.4 376.2 L794.7 372.3 L795.0 376.1 L795.4 373.5 L795.7 377.2 L796.0 373.8 L796.3 377.5 L796.6 374.4 L796.9 379.1 L797.2 375.5 L797.5 379.1 L797.8 376.0 L798.2 380.3 L798.5 379.0 L798.8 380.3 L799.1 375.7 L799.4 379.0 L799.7 374.5 L800.0 377.9 L800.3 372.5 L800.7 376.5 L801.0 371.6 L801.3 374.5 L801.6 370.4 L801.9 373.2 L802.2 368.5 L802.5 372.4 L802.8 367.3 L803.2 371.1 L803.5 365.7 L803.8 369.6 L804.1 365.1 L804.4 368.3 L804.7 363.8 L805.0 364.8 L805.3 362.6 L805.6 366.2 L805.9 362.2 L806.2 366.4 L806.5 362.8 L806.8 366.8 L807.1 362.9 L807.4 366.7 L807.8 362.0 L808.1 365.7 L808.4 361.9 L808.7 366.1 L809.0 361.6 L809.3 366.0 L809.6 362.0 L809.9 366.2 L810.2 362.2 L810.5 363.7 L810.8 360.5 L811.1 363.5 L811.4 359.4 L811.7 361.8 L812.0 357.0 L812.3 360.5 L812.6 355.5 L812.9 358.6 L813.2 353.7 L813.5 357.4 L813.8 352.8 L814.1 355.5 L814.4 350.3 L814.7 353.5 L815.0 348.7 L815.3 351.9 L815.6 347.3 L815.9 348.4 L816.2 344.6 L816.4 348.6 L816.7 342.0 L816.9 345.6 L817.2 340.1 L817.4 343.6 L817.6 337.4 L817.9 340.8 L818.1 337.5 L818.4 339.9 L818.7 335.1 L819.0 339.7 L819.3 334.6 L819.6 338.2 L819.9 333.9 L820.2 337.9 L820.5 333.6 L820.9 337.4 L821.2 332.9 L821.5 337.7 L821.8 332.8 L822.1 336.8 L822.4 332.6 L822.7 336.8 L823.0 332.7 L823.3 337.0 L823.6 334.2 L823.9 334.9 L824.2 330.3 L824.6 333.3 L824.9 328.0 L825.2 332.6 L825.5 327.3 L825.9 330.3 L826.2 325.0 L826.5 328.9 L826.9 325.5 L826.6 328.7 L826.3 324.7 L826.0 330.2 L825.7 326.2 L825.4 330.5 L825.1 326.7 L824.8 331.7 L824.5 328.9 L824.1 333.5 L823.8 330.0 L823.5 334.4 L823.2 330.5 L822.9 336.1 L822.6 332.0 L822.3 337.1 L822.0 333.2 L821.7 338.3 L821.4 334.5 L821.1 340.1 L820.8 335.7 L820.5 341.6 L820.2 337.5 L819.9 342.6 L819.6 338.5 L819.3 343.8 L819.0 340.8 L818.7 345.7 L818.4 341.2 L818.1 346.7 L817.8 342.6 L817.5 347.4 L817.2 344.2 L816.9 349.4 L816.6 345.0 L816.3 350.8 L816.0 347.2 L815.7 351.8 L815.4 348.1 L815.1 352.8 L814.8 349.8 L814.5 353.8 L814.2 350.8 L813.9 355.5 L813.6 352.3 L813.3 356.6 L813.0 353.3 L812.7 358.4 L812.4 354.6 L812.1 359.0 L811.8 355.6 L811.5 360.5 L811.2 356.8 L810.9 360.0 L811.2 356.5 L811.6 359.7 L811.9 355.2 L812.2 358.9 L812.6 353.6 L812.9 356.7 L813.2 351.9 L813.5 354.3 L813.9 350.2 L814.2 351.0 L814.4 348.2 L814.7 350.5 L814.9 345.2 L815.2 348.5 L815.5 342.5 L815.7 346.3 L816.0 340.8 L816.2 344.3 L816.5 338.1 L816.7 341.4 L817.0 335.5 L817.2 339.3 L817.5 335.7 L817.8 337.6 L818.1 333.2 L818.4 337.3 L818.7 332.5 L819.0 337.1 L819.3 332.3 L819.7 336.6 L820.0 333.3 L820.3 337.0 L820.6 332.9 L820.9 336.8 L821.2 332.8 L821.5 337.0 L821.8 331.9 L822.1 336.6 L822.5 331.3 L822.8 336.8 L823.1 331.4 L823.4 336.2 L823.7 332.1 L824.0 333.5 L824.3 330.7 L824.5 333.2 L824.7 327.1 L825.0 330.7 L825.2 325.1 L825.5 327.9 L825.7 322.9 L826.0 326.6 L826.2 322.6 L826.5 324.5 L826.8 318.8 L827.1 322.6 L827.4 318.5 L827.7 321.8 L828.0 316.6 L828.3 320.6 L828.6 315.4 L828.9 319.7 L829.2 314.3 L829.5 319.0 L829.8 314.0 L830.1 318.5 L830.4 312.8 L830.7 317.1 L831.1 312.1 L831.4 316.2 L831.7 312.8 L832.0 316.1 L832.3 311.4 L832.6 316.2 L832.9 311.7 L833.2 315.8 L833.5 312.0 L833.8 317.0 L834.2 311.7 L834.5 317.9 L834.8 312.1 L835.1 317.9 L835.4 313.1 L835.7 317.7 L836.0 316.1 L836.3 318.2 L836.6 312.7 L836.9 316.8 L837.2 311.2 L837.5 315.7 L837.8 311.3 L838.1 314.6 L838.5 310.3 L838.8 314.2 L839.1 308.4 L839.4 312.6 L839.7 307.9 L840.0 312.3 L840.3 306.8 L840.6 311.1 L840.9 305.8 L841.2 309.5 L841.5 307.3 L841.7 307.9 L841.9 302.6 L842.1 305.7 L842.3 299.6 L842.5 303.3 L842.7 297.0 L842.9 300.8 L843.1 295.6 L843.3 298.7 L843.5 292.7 L843.7 296.1 L843.9 289.7 L844.1 293.5 L844.4 287.3 L844.6 292.0 L844.8 287.7 L845.1 290.7 L845.4 286.1 L845.7 292.3 L846.0 286.9 L846.3 292.2 L846.6 288.7 L846.9 293.0 L847.2 289.3 L847.5 294.0 L847.8 289.8 L848.1 295.4 L848.4 291.3 L848.7 296.5 L849.0 291.3 L849.3 297.1 L849.6 293.4 L849.9 298.2 L850.2 296.4 L850.4 297.5 L850.6 290.9 L850.8 295.6 L851.0 289.1 L851.2 292.4 L851.3 287.2 L851.5 289.9 L851.7 283.6 L851.9 288.3 L852.1 282.2 L852.3 285.8 L852.5 279.9 L852.7 283.2 L852.8 279.4 L853.2 282.3 L853.5 278.5 L853.8 284.1 L854.1 278.7 L854.4 284.8 L854.7 280.7 L855.0 283.3 L855.3 279.9 L855.6 284.7 L856.0 278.8 L856.3 283.1 L856.6 277.3 L856.9 281.8 L857.2 279.4 L857.4 282.8 L857.6 279.4 L857.8 285.2 L858.0 282.3 L858.2 288.3 L858.4 283.4 L858.6 290.2 L858.8 286.9 L859.0 293.1 L859.2 289.4 L859.4 295.2 L859.6 291.2 L859.8 297.6 L860.0 296.4 L860.3 298.1 L860.7 293.8 L861.0 297.9 L861.3 291.7 L861.6 297.7 L861.9 292.3 L862.2 296.4 L862.5 291.0 L862.8 295.2 L863.1 290.0 L863.4 294.9 L863.7 289.1 L864.0 293.9 L864.3 288.1 L864.6 294.0 L864.9 288.1 L865.2 292.2 L865.5 289.9 L865.8 291.9 L866.2 286.8 L866.5 291.1 L866.8 284.8 L867.1 289.8 L867.5 283.3 L867.8 287.9 L868.1 285.5 L868.2 287.2 L868.3 283.0 L868.3 283.0 L868.3 281.8 L868.3 280.6 L868.3 279.4 L868.3 278.2 L868.3 277.0 L868.3 275.8 L868.3 274.6 L868.3 273.4 L868.3 272.2 L868.3 271.0 L868.3 269.8 L868.3 268.6 L868.3 267.4 L868.3 266.2 L868.3 265.0 L868.3 263.8 L868.3 262.6 L868.3 261.3 L868.3 260.1 L868.3 258.9 L868.3 257.7 L868.3 256.5 L868.3 255.3 L868.3 254.1 L868.3 252.9 L868.3 251.7 L868.3 250.5 L868.3 249.3 L868.3 248.1 L868.3 246.9 L868.3 245.7 L868.3 244.5 L868.3 243.3 L868.3 242.1 L868.4 240.9 L868.4 239.7 L868.4 238.5 L868.4 237.3 L868.4 236.1 L868.4 234.9 L868.4 233.7 L868.4 232.5 L868.4 231.3 L868.4 230.1 L868.4 228.9 L868.4 227.7 L868.4 226.5 L868.4 225.3 L868.4 224.1 L868.4 222.9 L868.4 221.7 L868.4 220.4 L868.4 219.2 L868.4 218.0 L868.4 216.8 L868.4 215.6 L868.4 214.4 L868.4 213.2 L868.4 212.0 L868.4 210.8 L868.4 209.6 L868.4 208.4 L868.4 207.2 L868.4 206.0 L868.4 204.8 L868.4 203.6 L868.4 202.4 L868.4 201.2 L868.4 200.0 L868.4 198.8 L868.4 197.6 L868.4 196.3 L868.4 195.1 L868.4 193.9 L868.4 192.7 L868.4 191.5 L868.4 190.2 L868.4 189.0 L868.4 187.8 L868.4 186.6 L868.4 185.4 L868.4 184.1 L868.4 182.9 L868.4 181.7 L868.4 180.5 L868.4 179.2 L868.4 178.0 L868.4 176.8 L868.4 175.6 L868.4 174.4 L868.4 173.1 L868.4 171.9 L868.4 170.7 L868.4 169.5 L868.4 168.3 L868.5 167.0 L868.5 165.8 L868.5 164.6 L868.5 163.4 L868.5 162.2 L868.5 160.9 L868.5 159.7 L868.5 158.5 L868.5 157.3 L868.5 156.1 L868.5 154.8 L868.5 153.6 L868.5 152.4 L868.5 151.2 L868.5 149.9 L868.5 148.7 L868.5 147.5 L868.5 146.3 L868.5 145.1 L868.5 143.8 L868.5 142.6 L868.5 141.4 L868.5 140.2 L868.5 139.0 L868.5 137.7 L868.5 136.5 L868.5 135.3 L868.5 136.5 L868.5 137.7 L868.5 139.0 L868.5 140.2 L868.5 141.4 L868.5 142.6 L868.5 143.8 L868.5 145.1 L868.5 146.3 L868.5 147.5 L868.5 148.7 L868.5 149.9 L868.5 151.2 L868.6 152.4 L868.6 153.6 L868.6 154.8 L868.6 156.1 L868.6 157.3 L868.6 158.5 L868.6 159.7 L868.6 160.9 L868.6 162.2 L868.6 163.4 L868.6 164.6 L868.6 165.8 L868.6 167.0 L868.6 168.3 L868.6 169.5 L868.6 170.7 L868.6 171.9 L868.6 173.1 L868.6 174.4 L868.6 175.6 L868.6 176.8 L868.6 178.0 L868.6 179.2 L868.6 180.5 L868.6 181.7 L868.6 182.9 L868.7 184.1 L868.7 185.4 L868.7 186.6 L868.7 187.8 L868.7 189.0 L868.7 190.2 L868.7 191.5 L868.7 192.7 L868.7 193.9 L868.7 195.1 L868.7 196.3 L868.7 197.6 L868.7 198.8 L868.7 200.0 L868.7 201.2 L868.7 202.4 L868.7 203.6 L868.7 204.8 L868.7 206.0 L868.7 207.2 L868.8 208.4 L868.8 209.6 L868.8 210.8 L868.8 212.0 L868.8 213.2 L868.8 214.4 L868.8 215.6 L868.8 216.8 L868.8 218.0 L868.8 219.2 L868.8 220.4 L868.8 221.7 L868.8 222.9 L868.8 224.1 L868.9 225.3 L868.9 226.5 L868.9 227.7 L868.9 228.9 L868.9 230.1 L868.9 231.3 L868.9 232.5 L868.9 233.7 L868.9 234.9 L868.9 236.1 L868.9 237.3 L868.9 238.5 L868.9 239.7 L868.9 240.9 L869.0 242.1 L869.0 243.3 L869.0 244.5 L869.0 245.7 L869.0 246.9 L869.0 248.1 L869.0 249.3 L869.0 250.5 L869.0 251.7 L869.0 252.9 L869.0 254.1 L869.0 255.3 L869.0 256.5 L869.0 257.7 L869.1 258.9 L869.1 260.1 L869.1 261.3 L869.1 262.6 L869.1 263.8 L869.1 265.0 L869.1 266.2 L869.1 267.4 L869.1 268.6 L869.1 269.8 L869.1 271.0 L869.1 272.2 L869.1 273.4 L869.1 274.6 L869.2 275.8 L869.2 277.0 L869.2 278.2 L869.2 279.4 L869.2 280.6 L869.2 281.8 L869.2 283.0 L869.2 283.0 L869.6 281.0 L869.9 287.3 L870.3 285.5 L870.5 286.8 L870.6 280.9 L870.7 284.0 L870.9 277.8 L871.0 282.4 L871.2 275.9 L871.3 279.9 L871.5 273.7 L871.6 274.6 L871.8 273.0 L871.9 279.2 L872.1 275.6 L872.3 281.8 L872.4 278.0 L872.6 284.0 L872.8 280.6 L872.9 284.4 L873.1 280.4 L873.3 284.0 L873.4 278.4 L873.6 282.4 L873.7 275.6 L873.9 279.9 L874.1 272.7 L874.2 274.6 L874.4 273.0 L874.6 279.3 L874.7 275.7 L874.9 282.6 L875.1 278.0 L875.2 285.0 L875.4 280.8 L875.5 284.4 L875.7 280.7 L875.8 285.3 L876.0 277.7 L876.1 282.4 L876.3 276.3 L876.4 280.0 L876.6 274.0 L876.7 278.1 L876.9 273.5 L877.0 278.1 L877.1 272.9 L877.2 279.4 L877.4 275.1 L877.5 281.6 L877.6 277.6 L877.8 284.5 L877.9 281.2 L878.0 287.5 L878.2 285.5 L878.4 286.8 L878.5 279.9 L878.7 284.7 L878.9 277.8 L879.1 282.5 L879.3 275.8 L879.5 276.8 L879.5 274.8 L879.6 281.7 L879.7 278.7 L879.8 284.2 L879.8 281.2 L879.9 286.4 L880.0 282.9 L880.1 289.0 L880.1 286.2 L880.2 291.8 L880.3 288.6 L880.3 292.1 L880.4 290.2 L880.5 297.7 L880.5 292.8 L880.6 300.2 L880.7 295.9 L880.7 302.4 L880.8 298.6 L880.8 305.1 L880.9 300.4 L881.0 307.3 L881.0 303.7 L881.1 308.9 L881.2 305.3 L881.2 309.5 L881.3 305.8 L881.4 309.6 L881.5 302.8 L881.6 306.5 L881.7 300.6 L881.8 304.4 L881.9 297.9 L882.0 301.9 L882.1 296.2 L882.2 300.2 L882.3 293.6 L882.3 297.4 L882.4 290.3 L882.5 292.1 L882.6 288.6 L882.7 292.3 L882.8 285.8 L882.9 289.1 L883.0 283.5 L883.1 287.7 L883.2 280.7 L883.3 284.5 L883.4 278.0 L883.4 281.2 L883.5 275.0 L883.6 276.8 L883.8 275.0 L883.9 282.5 L884.1 278.1 L884.2 283.9 L884.4 280.6 L884.6 287.2 L884.7 285.5 L884.9 287.1 L885.0 280.6 L885.2 284.5 L885.3 278.6 L885.4 282.7 L885.6 275.6 L885.7 279.7 L885.9 272.7 L886.0 274.6 L886.2 273.6 L886.3 280.0 L886.5 275.8 L886.6 282.6 L886.8 278.6 L886.9 284.1 L887.0 280.3 L887.2 286.9 L887.3 285.5 L887.5 286.7 L887.7 280.3 L887.9 283.9 L888.1 278.0 L888.3 281.1 L888.5 274.9 L888.6 276.8 L888.8 275.7 L889.0 282.4 L889.1 277.7 L889.3 284.5 L889.5 280.1 L889.6 286.2 L889.8 282.4 L890.0 286.6 L890.3 284.1 L890.7 289.3 L891.0 282.9 L891.4 288.6 L891.7 285.5 L892.0 287.4 L892.3 280.7 L892.6 284.9 L892.9 277.5 L893.2 281.8 L893.4 276.5 L893.7 279.9 L894.0 273.5 L894.3 277.1 L894.6 271.6 L894.9 276.0 L895.2 269.0 L895.5 272.5 L895.8 267.0 L896.1 268.0 L896.4 265.8 L896.7 271.5 L897.0 267.2 L897.3 273.3 L897.6 268.5 L897.9 274.5 L898.3 269.2 L898.6 275.0 L898.9 270.3 L899.2 276.5 L899.5 272.9 L899.8 278.6 L900.1 273.4 L900.4 276.8 L900.6 272.8 L900.8 276.6 L901.0 270.0 L901.2 274.3 L901.4 267.6 L901.6 271.7 L901.8 265.4 L902.0 270.0 L902.2 263.2 L902.4 267.3 L902.6 261.3 L902.7 265.1 L902.9 257.8 L903.1 261.9 L903.3 255.6 L903.5 260.4 L903.7 256.0 L904.0 259.2 L904.3 254.7 L904.6 262.5 L905.0 258.0 L905.3 263.5 L905.6 260.0 L905.9 265.5 L906.2 262.0 L906.5 267.9 L906.8 263.8 L907.1 269.6 L907.5 265.5 L907.8 271.7 L908.1 270.2 L908.4 272.2 L908.7 264.8 L909.0 268.8 L909.2 263.3 L909.5 266.4 L909.8 260.7 L910.1 264.2 L910.4 257.8 L910.7 263.0 L911.0 255.0 L911.3 259.7 L911.6 254.2 L911.9 258.3 L912.2 251.3 L912.4 252.8 L912.7 249.5 L913.1 255.9 L913.4 251.0 L913.7 255.8 L914.0 250.4 L914.3 257.0 L914.6 251.8 L914.9 257.4 L915.2 251.7 L915.5 258.5 L915.8 252.7 L916.1 257.9 L916.4 253.3 L916.7 259.6 L917.0 253.7 L917.3 259.7 L917.6 254.0 L917.9 257.1 L918.0 253.1 L918.1 257.5 L918.1 251.0 L918.2 255.0 L918.3 247.5 L918.4 251.7 L918.4 245.8 L918.5 250.5 L918.6 242.3 L918.7 246.6 L918.8 240.4 L918.8 245.1 L918.9 237.6 L919.0 239.7 L919.3 236.3 L919.6 240.6 L919.9 235.4 L920.2 240.4 L920.5 233.5 L920.8 238.3 L921.1 232.4 L921.4 237.8 L921.7 231.1 L922.0 235.6 L922.3 230.3 L922.6 234.9 L922.9 228.8 L923.2 233.7 L923.5 228.4 L923.8 233.0 L924.2 226.9 L924.5 228.7 L924.8 224.8 L925.1 229.9 L925.4 223.9 L925.8 229.4 L926.1 223.3 L926.4 228.0 L926.7 222.1 L927.1 227.0 L927.4 220.8 L927.7 222.2 L927.9 217.8 L928.1 222.4 L928.3 216.3 L928.5 220.0 L928.7 213.4 L928.8 217.7 L929.0 211.7 L929.2 212.7 L929.3 211.0 L929.4 217.5 L929.5 212.7 L929.6 220.1 L929.6 216.0 L929.7 222.2 L929.8 217.5 L929.9 224.7 L930.0 220.4 L930.1 228.0 L930.1 223.2 L930.2 230.2 L930.3 225.8 L930.4 231.6 L930.5 228.6 L930.6 234.5 L930.7 229.6 L930.7 236.5 L930.8 232.7 L930.9 239.8 L931.0 235.4 L931.1 241.2 L931.2 237.4 L931.2 244.1 L931.3 239.1 L931.4 247.2 L931.5 242.6 L931.6 249.1 L931.7 244.7 L931.8 250.6 L931.8 249.8 L931.9 251.3 L932.0 243.9 L932.1 248.7 L932.2 242.1 L932.3 246.9 L932.4 240.5 L932.5 244.9 L932.6 238.0 L932.7 241.5 L932.8 234.6 L932.9 238.6 L933.0 232.8 L933.1 236.4 L933.2 230.2 L933.3 233.8 L933.4 228.4 L933.4 231.7 L933.5 226.1 L933.6 229.1 L933.7 223.5 L933.8 227.4 L933.9 221.2 L934.0 225.5 L934.1 218.3 L934.2 222.2 L934.3 216.2 L934.4 220.7 L934.5 214.1 L934.6 218.1 L934.7 213.8 L935.0 216.0 L935.3 210.5 L935.7 216.7 L936.0 211.2 L936.3 217.7 L936.6 212.3 L937.0 216.6 L937.3 211.5 L937.6 217.7 L938.0 214.8 L938.1 219.2 L938.1 214.8 L938.2 221.2 L938.3 217.4 L938.4 223.5 L938.5 219.6 L938.6 226.2 L938.7 222.0 L938.8 228.1 L938.9 223.8 L939.0 230.1 L939.1 225.9 L939.2 233.2 L939.3 229.3 L939.4 235.0 L939.5 231.2 L939.6 238.0 L939.7 233.3 L939.8 240.2 L939.9 236.1 L940.0 243.4 L940.1 238.8 L940.2 246.0 L940.3 240.2 L940.4 248.4 L940.5 242.5 L940.6 247.2 L940.7 243.5 L940.9 248.0 L941.0 240.5 L941.2 244.5 L941.3 237.4 L941.5 242.8 L941.6 235.2 L941.8 240.1 L941.9 233.9 L942.1 238.1 L942.2 231.3 L942.4 234.7 L942.5 228.1 L942.7 232.1 L942.8 225.8 L943.0 230.4 L943.1 223.9 L943.3 227.9 L943.4 223.6 L943.7 225.1 L944.0 219.6 L944.4 224.7 L944.7 218.0 L945.0 222.5 L945.3 217.6 L945.6 219.2 L945.9 214.5 L946.2 219.4 L946.5 213.0 L946.8 217.0 L947.1 210.2 L947.4 215.2 L947.7 207.8 L948.0 212.3 L948.3 205.6 L948.6 210.1 L948.9 206.1 L949.2 208.3 L949.5 202.4 L949.8 209.3 L950.1 202.4 L950.4 209.1 L950.7 202.6 L951.0 208.6 L951.3 202.8 L951.6 208.2 L951.9 201.8 L952.2 208.3 L952.5 201.3 L952.8 207.9 L953.1 202.0 L953.4 207.5 L953.7 201.4 L954.0 206.5 L954.3 203.9 L954.4 205.3 L954.5 198.2 L954.5 203.6 L954.6 195.7 L954.7 200.8 L954.7 194.3 L954.8 197.6 L954.9 191.2 L955.0 195.2 L955.0 189.1 L955.1 192.6 L955.2 187.0 L955.2 191.1 L955.3 184.4 L955.4 188.9 L955.4 184.3 L955.7 186.6 L956.1 180.6 L956.4 186.3 L956.7 181.2 L957.0 186.1 L957.3 181.3 L957.6 185.9 L957.9 180.4 L958.2 184.9 L958.6 179.3 L958.9 185.1 L959.2 180.4 L959.5 185.8 L959.8 182.1 L959.8 183.2 L959.8 177.2 L959.8 180.4 L959.8 175.0 L959.8 179.0 L959.8 171.8 L959.8 176.2 L959.8 169.8 L959.8 173.4 L959.8 166.2 L959.8 171.1 L959.8 163.7 L959.8 169.5 L959.8 162.6 L959.8 166.9 L959.8 160.3 L959.8 164.2 L959.8 156.6 L959.8 161.7 L959.8 154.5 L959.8 159.5 L959.8 152.7 L959.8 153.7 L960.1 150.6 L960.5 155.7 L960.8 150.4 L961.1 155.1 L961.4 149.5 L961.8 155.3 L962.1 148.9 L962.4 154.9 L962.7 148.8 L963.1 151.5 L963.3 146.8 L963.6 152.3 L963.9 144.9 L964.2 149.1 L964.4 141.9 L964.7 146.7 L965.0 140.8 L965.3 141.7 L965.3 140.4 L965.3 147.2 L965.4 141.8 L965.4 149.6 L965.5 144.7 L965.5 152.5 L965.6 147.0 L965.6 154.1 L965.6 149.9 L965.7 157.1 L965.7 152.6 L965.8 158.4 L965.8 154.5 L965.8 162.0 L965.9 157.6 L965.9 164.3 L966.0 159.0 L966.0 165.8 L966.1 162.6 L966.1 168.8 L966.1 164.7 L966.2 172.0 L966.2 166.1 L966.3 173.6 L966.3 168.9 L966.4 173.3 L966.5 169.1 L966.6 173.2 L966.7 166.1 L966.8 170.7 L966.9 165.1 L967.0 168.7 L967.1 162.7 L967.2 166.3 L967.3 159.6 L967.4 164.6 L967.6 157.2 L967.7 162.0 L967.8 154.1 L967.9 159.1 L968.0 152.6 L968.1 153.7 L968.2 152.4 L968.3 158.9 L968.4 154.7 L968.4 161.5 L968.5 156.9 L968.6 163.4 L968.7 159.1 L968.8 166.9 L968.9 162.2 L968.9 168.2 L969.0 164.9 L969.1 170.2 L969.2 167.2 L969.3 173.1 L969.4 168.3 L969.5 176.0 L969.5 170.5 L969.6 178.6 L969.7 173.5 L969.8 180.6 L969.9 176.8 L970.0 182.6 L970.0 178.8 L970.1 185.4 L970.2 181.5 L970.3 187.7 L970.4 183.4 L970.5 190.0 L970.6 185.8 L970.6 191.8 L970.7 190.8 L970.8 192.7 L970.9 185.1 L970.9 190.1 L971.0 183.7 L971.1 187.6 L971.2 180.0 L971.2 185.7 L971.3 177.7 L971.4 181.7 L971.4 175.0 L971.5 180.3 L971.6 173.5 L971.7 178.2 L971.7 170.2 L971.8 175.7 L971.9 168.6 L972.0 172.7 L972.0 165.9 L972.1 169.8 L972.2 162.9 L972.2 167.8 L972.3 161.1 L972.4 165.2 L972.5 157.6 L972.5 162.8 L972.6 155.2 L972.7 160.3 L972.8 152.6 L972.8 157.0 L972.9 153.7 L973.2 155.9 L973.6 149.7 L973.9 155.2 L974.2 148.0 L974.5 153.9 L974.9 147.7 L975.2 152.9 L975.5 146.5 L975.9 151.9 L976.2 148.2"/>
<path stroke="#da373e" d="M124.2 594.3 L124.5 594.2 L124.8 594.4 L125.1 594.2 L125.4 594.4 L125.7 594.2 L126.0 594.4 L126.3 594.2 L126.6 594.4 L126.9 594.2 L127.2 594.4 L127.5 594.2 L127.8 594.3 L128.2 594.2 L128.5 594.4 L128.8 594.2 L129.1 594.3 L129.4 594.2 L129.7 594.4 L130.0 594.2 L130.3 594.3 L130.6 594.1 L130.9 594.3 L131.2 594.1 L131.5 594.3 L131.8 594.2 L132.1 594.3 L132.4 594.2 L132.7 594.4 L133.0 594.2 L133.3 594.3 L133.6 594.1 L133.9 594.3 L134.2 594.1 L134.5 594.3 L134.8 594.2 L135.1 594.3 L135.4 594.1 L135.7 594.3 L136.1 594.1 L136.4 594.3 L136.7 594.1 L137.0 594.3 L137.3 594.1 L137.6 594.3 L137.9 594.1 L138.2 594.3 L138.5 594.1 L138.8 594.3 L139.1 594.1 L139.4 594.3 L139.7 594.1 L140.0 594.2 L140.3 594.1 L140.6 594.3 L140.9 594.1 L141.2 594.2 L141.5 594.1 L141.8 594.2 L142.1 594.0 L142.4 594.2 L142.7 594.0 L143.0 594.2 L143.3 594.0 L143.6 594.2 L143.9 594.0 L144.2 594.2 L144.5 594.0 L144.8 594.2 L145.2 593.9 L145.5 594.1 L145.8 593.9 L146.1 594.1 L146.4 593.9 L146.7 594.1 L147.0 593.9 L147.3 594.1 L147.6 593.9 L147.9 594.0 L148.2 593.9 L148.5 594.0 L148.8 593.8 L149.1 594.0 L149.4 593.8 L149.7 594.0 L150.0 593.9 L150.3 594.0 L150.6 593.8 L150.9 593.9 L151.2 593.8 L151.5 594.0 L151.8 593.8 L152.1 593.9 L152.4 593.7 L152.7 593.9 L153.0 593.7 L153.3 593.9 L153.6 593.7 L153.9 593.9 L154.2 593.7 L154.5 593.9 L154.8 593.6 L155.1 593.8 L155.4 593.6 L155.7 593.8 L156.0 593.6 L156.3 593.8 L156.6 593.6 L156.9 593.8 L157.2 593.6 L157.5 593.7 L157.8 593.6 L158.1 593.7 L158.4 593.5 L158.7 593.7 L159.0 593.5 L159.3 593.7 L159.6 593.5 L159.9 593.6 L160.2 593.4 L160.5 593.7 L160.8 593.4 L161.1 593.6 L161.4 593.4 L161.7 593.6 L162.0 593.4 L162.3 593.6 L162.6 593.4 L162.9 593.5 L163.2 593.4 L163.5 593.5 L163.8 593.4 L164.1 593.5 L164.4 593.4 L164.7 593.5 L165.0 593.4 L165.3 593.5 L165.6 593.3 L165.9 593.4 L166.2 593.2 L166.5 593.4 L166.8 593.2 L167.1 593.3 L167.4 593.1 L167.7 593.3 L168.0 593.1 L168.3 593.3 L168.6 593.0 L168.9 593.2 L169.2 593.0 L169.5 593.2 L169.8 593.0 L170.1 593.2 L170.4 593.0 L170.7 593.1 L171.0 592.9 L171.3 593.1 L171.6 592.8 L171.9 593.0 L172.2 592.8 L172.5 593.0 L172.8 592.8 L173.1 593.0 L173.4 592.7 L173.7 592.9 L174.0 592.7 L174.3 592.9 L174.6 592.7 L174.9 592.8 L175.2 592.6 L175.5 592.8 L175.8 592.6 L176.1 592.8 L176.4 592.6 L176.7 592.7 L177.0 592.5 L177.3 592.7 L177.6 592.4 L177.9 592.7 L178.2 592.4 L178.5 592.6 L178.8 592.4 L179.1 592.6 L179.4 592.4 L179.7 592.5 L180.0 592.4 L180.3 592.5 L180.6 592.2 L180.9 592.4 L181.2 592.1 L181.5 592.4 L181.8 592.1 L182.1 592.3 L182.4 592.0 L182.7 592.2 L183.0 592.0 L183.3 592.2 L183.7 591.9 L184.0 592.1 L184.3 591.9 L184.6 592.1 L184.9 591.8 L185.2 592.0 L185.5 591.7 L185.8 592.0 L186.1 591.7 L186.4 591.9 L186.7 591.6 L187.0 591.8 L187.3 591.5 L187.6 591.8 L187.9 591.5 L188.2 591.7 L188.5 591.4 L188.8 591.7 L189.1 591.3 L189.4 591.6 L189.7 591.3 L190.0 591.5 L190.3 591.2 L190.7 591.4 L191.0 591.2 L191.3 591.4 L191.6 591.1 L191.9 591.4 L192.2 591.1 L192.5 591.3 L192.8 591.0 L193.1 591.2 L193.4 590.9 L193.7 591.2 L194.0 591.0 L194.3 591.1 L194.6 591.0 L194.9 591.3 L195.2 591.1 L195.5 591.4 L195.8 591.1 L196.1 591.5 L196.4 591.2 L196.7 591.6 L197.0 591.4 L197.3 591.6 L197.7 591.5 L198.0 591.7 L198.3 591.5 L198.6 591.8 L198.9 591.7 L199.2 591.9 L199.5 591.7 L199.8 592.0 L200.1 591.8 L200.4 592.1 L200.7 591.9 L201.0 592.1 L201.3 592.0 L201.6 592.2 L201.9 591.9 L202.2 592.1 L202.5 591.9 L202.8 592.0 L203.1 591.8 L203.4 592.0 L203.7 591.8 L204.0 592.0 L204.3 591.7 L204.7 591.9 L205.0 591.7 L205.3 591.9 L205.6 591.6 L205.9 591.8 L206.2 591.6 L206.5 591.8 L206.8 591.6 L207.1 591.7 L207.4 591.5 L207.7 591.7 L208.0 591.4 L208.3 591.6 L208.6 591.4 L208.9 591.6 L209.2 591.3 L209.5 591.5 L209.8 591.3 L210.1 591.5 L210.4 591.2 L210.7 591.5 L211.0 591.2 L211.3 591.4 L211.7 591.1 L212.0 591.4 L212.3 591.1 L212.6 591.3 L212.9 591.0 L213.2 591.3 L213.5 591.0 L213.8 591.3 L214.1 590.9 L214.4 591.1 L214.7 590.9 L215.0 591.0 L215.3 590.9 L215.6 591.1 L215.9 590.8 L216.2 591.0 L216.5 590.8 L216.8 591.0 L217.1 590.7 L217.4 590.9 L217.7 590.7 L218.0 590.9 L218.3 590.7 L218.6 590.9 L219.0 590.6 L219.3 590.8 L219.6 590.5 L219.9 590.8 L220.2 590.5 L220.5 590.8 L220.8 590.4 L221.1 590.7 L221.4 590.4 L221.7 590.7 L222.0 590.4 L222.3 590.6 L222.6 590.3 L222.9 590.6 L223.2 590.3 L223.5 590.5 L223.8 590.2 L224.1 590.4 L224.4 590.2 L224.7 590.5 L225.0 590.2 L225.3 590.4 L225.6 590.1 L225.9 590.4 L226.2 590.0 L226.5 590.3 L226.9 590.0 L227.2 590.2 L227.5 590.0 L227.8 590.2 L228.1 590.0 L228.4 590.2 L228.7 589.9 L229.0 590.2 L229.3 589.9 L229.6 590.1 L229.9 589.8 L230.2 590.1 L230.5 589.9 L230.8 590.0 L231.1 589.7 L231.4 589.9 L231.7 589.6 L232.0 589.9 L232.3 589.6 L232.6 589.9 L232.9 589.5 L233.2 589.8 L233.5 589.5 L233.8 589.8 L234.2 589.4 L234.5 589.7 L234.8 589.4 L235.1 589.6 L235.4 589.3 L235.7 589.6 L236.0 589.2 L236.3 589.5 L236.6 589.2 L236.9 589.4 L237.2 589.1 L237.5 589.3 L237.8 589.2 L238.1 589.2 L238.4 588.9 L238.7 589.0 L239.0 588.6 L239.3 588.8 L239.7 588.4 L240.0 588.6 L240.3 588.2 L240.6 588.4 L240.9 588.0 L241.2 588.1 L241.5 587.8 L241.8 588.0 L242.1 587.5 L242.4 587.7 L242.7 587.3 L243.0 587.6 L243.3 587.1 L243.7 587.3 L244.0 586.9 L244.3 587.1 L244.6 586.6 L244.9 586.9 L245.2 586.6 L245.5 586.8 L245.8 586.4 L246.1 586.8 L246.4 586.5 L246.7 586.8 L247.0 586.4 L247.3 586.8 L247.6 586.5 L247.9 586.8 L248.2 586.5 L248.5 586.8 L248.8 586.5 L249.2 586.9 L249.5 586.5 L249.8 586.8 L250.1 586.6 L250.4 586.9 L250.7 586.5 L251.0 586.9 L251.3 586.6 L251.6 586.9 L251.9 586.6 L252.2 586.9 L252.5 586.6 L252.8 586.9 L253.1 586.6 L253.4 587.0 L253.7 586.6 L254.0 587.0 L254.3 586.6 L254.6 587.0 L254.9 586.6 L255.2 587.0 L255.5 586.7 L255.8 587.0 L256.1 586.7 L256.5 587.0 L256.8 586.7 L257.1 587.0 L257.4 586.7 L257.7 587.0 L258.0 586.7 L258.3 587.0 L258.6 586.7 L258.9 587.0 L259.2 586.7 L259.5 587.0 L259.8 586.9 L260.1 587.1 L260.4 586.7 L260.7 587.1 L261.0 586.7 L261.3 587.0 L261.7 586.6 L262.0 587.0 L262.3 586.6 L262.6 587.0 L262.9 586.6 L263.2 587.0 L263.5 586.6 L263.8 586.9 L264.1 586.5 L264.4 586.9 L264.7 586.5 L265.1 586.9 L265.4 586.5 L265.7 586.8 L266.0 586.5 L266.3 586.8 L266.6 586.4 L266.9 586.8 L267.2 586.4 L267.5 586.8 L267.8 586.4 L268.1 586.8 L268.5 586.4 L268.8 586.7 L269.1 586.4 L269.4 586.7 L269.7 586.3 L270.0 586.5 L270.3 586.4 L270.6 586.7 L270.9 586.3 L271.2 586.7 L271.5 586.3 L271.8 586.7 L272.1 586.3 L272.4 586.6 L272.7 586.2 L273.0 586.6 L273.3 586.2 L273.6 586.6 L273.9 586.2 L274.2 586.5 L274.5 586.2 L274.8 586.5 L275.1 586.2 L275.4 586.5 L275.7 586.1 L276.1 586.5 L276.4 586.1 L276.7 586.6 L277.0 586.1 L277.3 586.5 L277.6 586.1 L277.9 586.5 L278.2 586.1 L278.5 586.5 L278.8 586.1 L279.1 586.4 L279.4 586.1 L279.7 586.4 L280.0 586.0 L280.3 586.4 L280.6 586.0 L280.9 586.4 L281.2 586.1 L281.5 586.4 L281.8 586.2 L282.1 586.3 L282.4 585.8 L282.7 586.1 L283.0 585.6 L283.3 585.9 L283.6 585.4 L283.9 585.7 L284.2 585.3 L284.5 585.5 L284.8 585.0 L285.1 585.4 L285.4 584.8 L285.7 585.1 L286.0 584.6 L286.3 584.9 L286.6 584.4 L286.9 584.7 L287.2 584.2 L287.5 584.5 L287.8 584.0 L288.1 584.3 L288.4 583.8 L288.7 584.1 L289.0 583.6 L289.3 584.0 L289.6 583.5 L289.9 583.8 L290.2 583.2 L290.5 583.6 L290.8 583.0 L291.1 583.3 L291.4 582.8 L291.7 582.9 L292.0 582.8 L292.3 583.2 L292.6 583.0 L292.9 583.4 L293.2 583.0 L293.5 583.5 L293.8 583.2 L294.1 583.6 L294.5 583.3 L294.8 583.8 L295.1 583.4 L295.4 583.9 L295.7 583.5 L296.0 583.9 L296.3 583.6 L296.6 584.1 L296.9 583.7 L297.2 584.2 L297.5 583.9 L297.8 584.3 L298.1 583.9 L298.4 584.5 L298.7 584.1 L299.0 584.6 L299.3 584.3 L299.6 584.7 L299.9 584.4 L300.2 584.9 L300.5 584.5 L300.9 585.0 L301.2 584.6 L301.5 584.9 L301.8 584.6 L302.1 584.9 L302.4 584.4 L302.7 584.6 L303.0 584.1 L303.3 584.5 L303.6 583.8 L303.9 584.2 L304.2 583.6 L304.5 584.0 L304.8 583.4 L305.1 583.8 L305.4 583.3 L305.7 583.5 L306.0 583.0 L306.3 583.3 L306.6 582.7 L306.9 583.0 L307.2 582.6 L307.5 582.9 L307.8 582.3 L308.1 582.6 L308.4 582.1 L308.7 582.4 L309.0 581.8 L309.3 582.0 L309.6 581.7 L309.9 582.2 L310.2 581.8 L310.5 582.3 L310.8 581.9 L311.1 582.4 L311.4 582.1 L311.7 582.5 L312.0 582.2 L312.3 582.7 L312.6 582.2 L312.9 582.7 L313.2 582.3 L313.5 582.9 L313.8 582.4 L314.1 582.8 L314.4 582.5 L314.7 582.9 L315.0 582.6 L315.3 583.0 L315.6 582.7 L315.9 583.1 L316.2 582.8 L316.5 583.3 L316.8 582.8 L317.1 583.3 L317.4 583.0 L317.7 583.4 L318.0 583.1 L318.3 583.5 L318.6 583.2 L318.9 583.6 L319.2 583.2 L319.5 583.6 L319.8 583.3 L320.1 583.8 L320.4 583.4 L320.7 583.8 L321.0 583.5 L321.3 583.9 L321.6 583.6 L321.9 584.0 L322.2 583.6 L322.5 584.2 L322.8 583.7 L323.1 584.2 L323.4 583.9 L323.7 584.3 L324.0 583.9 L324.3 584.4 L324.6 584.0 L324.9 584.3 L325.2 584.1 L325.5 584.4 L325.8 583.9 L326.1 584.3 L326.4 583.8 L326.7 584.2 L327.0 583.8 L327.3 584.0 L327.6 583.7 L327.9 584.0 L328.2 583.5 L328.5 583.9 L328.8 583.4 L329.1 583.8 L329.4 583.3 L329.7 583.7 L330.0 583.2 L330.3 583.5 L330.6 583.1 L330.9 583.4 L331.3 582.9 L331.6 583.4 L331.9 582.9 L332.2 583.2 L332.5 582.8 L332.8 583.2 L333.1 582.6 L333.4 583.0 L333.7 582.6 L334.0 583.0 L334.3 582.4 L334.6 582.8 L334.9 582.4 L335.2 582.8 L335.5 582.3 L335.8 582.6 L336.1 582.1 L336.4 582.6 L336.7 582.0 L337.0 582.5 L337.3 581.9 L337.6 582.3 L337.9 581.9 L338.2 582.3 L338.5 582.0 L338.8 582.2 L339.1 581.7 L339.4 582.0 L339.7 581.6 L340.0 582.1 L340.3 581.6 L340.6 582.0 L340.9 581.5 L341.2 582.0 L341.5 581.5 L341.8 581.9 L342.1 581.5 L342.4 581.9 L342.7 581.4 L343.0 581.8 L343.3 581.3 L343.6 581.8 L343.9 581.3 L344.2 581.7 L344.5 581.2 L344.8 581.7 L345.1 581.1 L345.4 581.6 L345.7 581.2 L346.0 581.6 L346.3 581.1 L346.6 581.6 L346.9 581.0 L347.2 581.5 L347.5 581.0 L347.8 581.4 L348.1 580.9 L348.4 581.5 L348.7 580.9 L349.0 581.3 L349.3 580.9 L349.6 581.4 L349.9 580.8 L350.2 581.2 L350.5 580.8 L350.8 581.2 L351.1 580.6 L351.4 581.2 L351.7 580.6 L352.0 581.2 L352.3 580.5 L352.6 581.0 L352.9 580.6 L353.2 581.1 L353.5 580.5 L353.8 580.9 L354.1 580.4 L354.4 580.9 L354.7 580.4 L355.0 580.9 L355.3 580.4 L355.6 580.8 L355.9 580.3 L356.2 580.8 L356.5 580.2 L356.8 580.7 L357.1 580.1 L357.4 580.6 L357.7 580.2 L358.0 580.4 L358.3 580.1 L358.6 580.7 L358.9 580.1 L359.2 580.5 L359.5 580.1 L359.8 580.5 L360.2 580.0 L360.5 580.5 L360.8 580.1 L361.1 580.6 L361.4 580.1 L361.7 580.5 L362.0 579.9 L362.3 580.5 L362.6 580.0 L362.9 580.4 L363.2 580.0 L363.5 580.5 L363.8 579.9 L364.1 580.4 L364.4 579.8 L364.7 580.4 L365.0 579.9 L365.3 580.4 L365.6 579.8 L365.9 580.3 L366.2 579.8 L366.5 580.3 L366.8 579.8 L367.1 580.2 L367.4 579.7 L367.7 580.3 L368.0 579.7 L368.3 580.3 L368.6 579.8 L368.9 580.2 L369.2 579.7 L369.5 580.3 L369.8 579.6 L370.1 580.1 L370.4 579.7 L370.7 580.1 L371.0 579.6 L371.3 580.2 L371.6 579.6 L371.9 580.1 L372.2 579.5 L372.5 580.1 L372.8 579.5 L373.1 580.1 L373.4 579.5 L373.7 580.0 L374.0 579.5 L374.3 580.0 L374.6 579.5 L374.9 579.9 L375.2 579.4 L375.5 579.9 L375.8 579.5 L376.1 579.9 L376.4 579.4 L376.7 579.9 L377.0 579.3 L377.3 579.9 L377.6 579.6 L377.9 579.9 L378.2 579.2 L378.5 579.6 L378.8 579.1 L379.1 579.5 L379.4 578.8 L379.7 579.3 L380.0 578.7 L380.3 579.1 L380.6 578.5 L380.9 579.0 L381.2 578.3 L381.5 578.9 L381.8 578.2 L382.1 578.6 L382.4 578.0 L382.7 578.5 L383.0 577.9 L383.3 578.3 L383.6 577.7 L383.9 578.2 L384.2 577.6 L384.5 578.0 L384.8 577.5 L385.1 578.0 L385.4 577.2 L385.7 577.7 L386.0 577.1 L386.3 577.7 L386.6 576.9 L386.9 577.4 L387.2 576.7 L387.5 577.3 L387.8 576.5 L388.1 577.0 L388.4 576.4 L388.7 577.0 L389.0 576.2 L389.3 576.5 L389.6 576.0 L389.9 576.5 L390.2 575.9 L390.5 576.2 L390.8 575.6 L391.1 576.1 L391.4 575.3 L391.7 575.9 L392.0 575.1 L392.3 575.6 L392.7 574.8 L393.0 575.3 L393.3 574.5 L393.6 575.2 L393.9 574.4 L394.2 574.9 L394.5 574.1 L394.8 574.5 L395.1 574.1 L395.4 574.6 L395.7 574.1 L396.0 574.8 L396.4 574.4 L396.7 575.1 L397.0 574.5 L397.3 575.3 L397.6 574.9 L397.9 575.5 L398.2 575.0 L398.5 575.8 L398.8 575.4 L399.1 576.0 L399.4 575.5 L399.7 576.3 L400.1 575.9 L400.4 576.5 L400.7 576.1 L401.0 576.5 L401.3 576.1 L401.6 576.6 L401.9 575.9 L402.2 576.3 L402.5 575.6 L402.8 576.1 L403.1 575.5 L403.4 575.9 L403.7 575.2 L404.0 575.7 L404.3 575.0 L404.6 575.5 L404.9 574.8 L405.2 575.4 L405.5 574.5 L405.8 575.1 L406.1 574.4 L406.4 575.0 L406.7 574.2 L407.0 574.6 L407.3 573.9 L407.6 574.5 L407.9 573.7 L408.2 574.3 L408.5 573.5 L408.8 573.8 L409.1 573.3 L409.4 573.8 L409.7 573.1 L410.0 573.6 L410.3 572.7 L410.6 573.4 L410.9 572.6 L411.2 573.1 L411.5 572.3 L411.8 572.8 L412.1 572.1 L412.4 572.5 L412.7 571.7 L413.0 572.4 L413.3 571.5 L413.6 572.0 L413.9 571.1 L414.2 571.9 L414.5 571.0 L414.8 571.4 L415.1 570.6 L415.4 571.4 L415.7 570.4 L416.0 570.9 L416.3 570.0 L416.6 570.7 L416.9 569.8 L417.2 570.5 L417.5 569.5 L417.8 570.2 L418.1 569.3 L418.4 569.9 L418.7 569.1 L419.0 569.8 L419.3 568.8 L419.6 569.4 L419.9 568.6 L420.2 569.2 L420.5 568.7 L420.8 569.2 L421.1 568.5 L421.4 569.2 L421.7 568.7 L422.0 569.5 L422.3 568.7 L422.6 569.5 L423.0 568.9 L423.3 569.9 L423.6 569.2 L423.9 570.0 L424.2 569.4 L424.5 570.1 L424.8 569.5 L425.1 570.3 L425.4 569.7 L425.7 570.4 L426.0 569.8 L426.3 570.2 L426.6 569.7 L426.9 570.3 L427.2 569.3 L427.5 569.9 L427.8 569.0 L428.1 569.5 L428.4 568.6 L428.7 569.1 L429.0 568.1 L429.3 568.8 L429.6 567.8 L429.9 568.3 L430.2 567.4 L430.5 567.9 L430.8 567.1 L431.1 567.6 L431.4 566.7 L431.7 567.3 L432.0 566.3 L432.3 566.8 L432.6 565.9 L432.9 566.4 L433.2 565.5 L433.5 566.2 L433.8 565.1 L434.1 565.4 L434.4 565.1 L434.7 565.8 L435.0 565.0 L435.3 565.9 L435.6 565.0 L435.9 565.9 L436.2 564.8 L436.5 565.8 L436.8 564.9 L437.1 565.7 L437.4 564.8 L437.7 565.8 L438.0 564.8 L438.3 565.9 L438.6 565.0 L438.9 565.9 L439.2 564.8 L439.5 565.7 L439.8 565.0 L440.2 565.9 L440.5 565.0 L440.8 565.9 L441.1 565.0 L441.4 565.9 L441.7 565.0 L442.0 565.8 L442.3 564.8 L442.6 565.7 L442.9 565.0 L443.2 565.8 L443.5 565.0 L443.8 565.7 L444.1 565.0 L444.4 565.7 L444.7 564.8 L445.0 565.8 L445.3 564.8 L445.6 565.7 L445.9 564.9 L446.2 565.7 L446.5 564.9 L446.8 565.8 L447.1 565.0 L447.4 565.9 L447.7 564.9 L448.0 565.8 L448.3 564.8 L448.6 565.7 L448.9 564.8 L449.2 565.8 L449.5 565.0 L449.8 565.4 L450.1 564.7 L450.4 565.4 L450.7 564.3 L451.0 565.1 L451.3 564.1 L451.6 564.8 L451.9 563.7 L452.2 564.3 L452.5 563.3 L452.8 564.0 L453.1 562.9 L453.4 563.7 L453.7 562.6 L454.0 563.5 L454.3 562.3 L454.6 563.1 L454.9 562.0 L455.2 562.6 L455.5 561.7 L455.8 562.3 L456.1 561.2 L456.4 562.0 L456.7 560.9 L457.0 561.8 L457.3 560.7 L457.6 560.9 L457.9 560.6 L458.2 561.6 L458.5 560.8 L458.8 561.6 L459.1 561.0 L459.4 561.9 L459.7 561.2 L460.0 562.1 L460.3 561.3 L460.6 562.4 L460.9 561.6 L461.3 562.6 L461.6 561.8 L461.9 562.7 L462.2 561.8 L462.5 562.9 L462.8 562.3 L463.1 563.1 L463.4 562.8 L463.7 563.1 L464.0 561.9 L464.3 562.7 L464.6 561.6 L465.0 562.2 L465.3 561.3 L465.6 561.9 L465.9 560.7 L466.2 561.4 L466.5 560.3 L466.8 561.0 L467.1 559.8 L467.4 560.7 L467.7 559.5 L468.0 560.4 L468.3 559.2 L468.7 559.8 L469.0 558.7 L469.3 558.9 L469.6 558.7 L469.9 559.6 L470.2 558.8 L470.5 559.9 L470.8 559.2 L471.1 560.5 L471.4 559.7 L471.7 560.6 L472.0 559.9 L472.3 561.1 L472.7 560.2 L473.0 561.5 L473.3 560.7 L473.6 561.6 L473.9 561.0 L474.2 561.9 L474.5 561.1 L474.8 562.4 L475.1 562.0 L475.5 562.1 L475.8 561.4 L476.1 562.1 L476.4 561.0 L476.7 562.0 L477.0 560.8 L477.3 561.6 L477.6 560.4 L477.9 561.1 L478.2 560.2 L478.5 560.8 L478.8 559.9 L479.1 560.5 L479.5 559.3 L479.8 560.3 L480.1 558.9 L480.4 559.9 L480.7 558.8 L481.0 559.5 L481.3 558.4 L481.6 559.3 L481.9 558.0 L482.2 558.8 L482.5 557.6 L482.8 558.6 L483.1 557.4 L483.4 558.3 L483.7 557.1 L484.1 557.8 L484.4 556.7 L484.7 557.6 L485.0 556.1 L485.3 556.6 L485.6 555.8 L485.9 556.7 L486.2 555.3 L486.5 556.2 L486.8 555.1 L487.1 556.0 L487.4 554.5 L487.7 555.4 L488.0 554.0 L488.3 555.1 L488.6 553.6 L488.9 554.6 L489.2 553.1 L489.5 554.2 L489.8 552.7 L490.1 553.7 L490.4 552.2 L490.7 553.1 L491.0 551.9 L491.3 552.7 L491.6 551.5 L491.9 552.4 L492.2 551.0 L492.5 551.6 L492.8 550.5 L493.1 551.5 L493.4 550.0 L493.7 550.8 L494.0 550.1 L494.3 550.3 L494.6 549.2 L494.9 550.1 L495.2 548.6 L495.5 549.7 L495.9 548.1 L496.2 549.0 L496.5 547.7 L496.8 548.7 L497.1 547.2 L497.4 548.4 L497.7 546.7 L498.0 547.7 L498.3 546.3 L498.6 547.6 L498.9 545.8 L499.2 546.9 L499.5 545.6 L499.8 546.4 L500.1 545.2 L500.4 546.3 L500.7 544.5 L501.0 545.8 L501.4 544.1 L501.7 544.6 L502.0 544.8 L502.3 546.9 L502.6 546.7 L502.9 548.5 L503.2 548.2 L503.5 550.3 L503.8 550.1 L504.2 552.1 L504.5 551.9 L504.8 553.7 L505.1 553.6 L505.4 555.5 L505.7 555.3 L506.0 556.6 L506.3 555.3 L506.7 555.6 L507.0 553.4 L507.3 553.8 L507.6 551.6 L507.9 551.7 L508.2 549.9 L508.5 550.1 L508.9 547.9 L509.2 548.3 L509.5 546.2 L509.8 546.7 L510.1 544.6 L510.4 545.0 L510.7 542.8 L511.0 542.4 L511.3 542.4 L511.6 544.5 L511.9 544.2 L512.2 546.0 L512.5 545.5 L512.8 547.8 L513.1 547.3 L513.4 549.1 L513.8 548.6 L514.1 550.7 L514.4 550.2 L514.7 552.0 L515.0 551.7 L515.3 553.6 L515.6 553.2 L515.9 554.5 L516.2 553.8 L516.5 555.1 L516.8 554.2 L517.1 555.3 L517.4 554.2 L517.7 555.2 L518.0 554.3 L518.3 555.4 L518.6 554.4 L518.9 555.7 L519.2 554.5 L519.5 555.8 L519.8 554.7 L520.1 555.8 L520.4 554.9 L520.7 556.1 L521.0 555.1 L521.3 556.2 L521.6 555.2 L521.9 556.1 L522.2 555.3 L522.5 556.4 L522.8 555.3 L523.1 556.4 L523.4 555.3 L523.7 556.5 L524.0 555.6 L524.3 556.7 L524.6 555.6 L524.9 556.9 L525.3 555.8 L525.6 556.9 L525.9 556.0 L526.2 556.9 L526.5 555.9 L526.8 556.6 L527.1 555.7 L527.4 556.6 L527.7 555.3 L528.0 555.9 L528.3 554.4 L528.6 555.3 L529.0 554.0 L529.3 554.7 L529.6 553.1 L529.9 554.0 L530.2 552.7 L530.5 553.4 L530.8 551.9 L531.1 553.0 L531.4 551.5 L531.8 552.1 L532.1 550.8 L532.4 551.6 L532.7 550.1 L533.0 550.9 L533.3 550.1 L533.6 550.5 L533.9 549.3 L534.2 550.4 L534.5 548.8 L534.8 549.8 L535.1 548.4 L535.4 549.5 L535.7 548.3 L536.0 549.5 L536.3 547.9 L536.6 549.1 L536.9 547.7 L537.2 548.6 L537.5 547.3 L537.8 548.3 L538.1 547.2 L538.4 548.1 L538.7 546.9 L539.0 547.8 L539.3 546.3 L539.6 547.6 L539.9 546.1 L540.2 547.3 L540.5 545.8 L540.8 546.8 L541.1 545.5 L541.5 546.6 L541.8 545.1 L542.1 545.7 L542.4 544.9 L542.7 546.3 L543.0 544.9 L543.3 546.3 L543.6 544.9 L543.9 546.0 L544.2 544.7 L544.5 546.2 L544.8 544.6 L545.1 546.1 L545.4 544.5 L545.7 546.0 L546.0 544.5 L546.3 545.8 L546.6 544.6 L546.9 545.8 L547.2 544.6 L547.5 545.7 L547.8 544.2 L548.1 545.7 L548.4 544.2 L548.7 545.5 L549.0 544.2 L549.3 545.5 L549.6 544.1 L549.9 545.4 L550.2 544.0 L550.5 545.5 L550.8 544.6 L551.1 544.9 L551.4 543.4 L551.7 544.6 L552.0 543.0 L552.3 544.0 L552.7 542.2 L553.0 543.3 L553.3 541.8 L553.6 542.8 L553.9 541.2 L554.2 542.6 L554.5 540.8 L554.8 541.8 L555.2 540.3 L555.5 541.5 L555.8 539.7 L556.1 540.9 L556.4 539.2 L556.7 540.6 L557.0 538.7 L557.3 539.2 L557.6 538.7 L558.0 540.5 L558.3 539.3 L558.6 540.9 L558.9 539.7 L559.2 541.4 L559.5 540.3 L559.8 541.9 L560.1 540.6 L560.5 542.0 L560.8 541.1 L561.1 542.6 L561.4 541.7 L561.7 542.4 L562.0 541.6 L562.3 542.8 L562.6 541.2 L563.0 542.5 L563.3 541.1 L563.6 542.1 L563.9 540.6 L564.2 542.1 L564.5 540.3 L564.8 541.5 L565.1 539.9 L565.4 541.2 L565.8 539.8 L566.1 540.8 L566.4 539.3 L566.7 540.8 L567.0 539.0 L567.3 540.3 L567.6 538.7 L567.9 539.9 L568.3 539.2 L568.6 540.0 L568.9 538.3 L569.2 539.7 L569.5 537.9 L569.8 539.6 L570.1 537.9 L570.4 539.2 L570.7 537.7 L571.0 538.9 L571.3 537.4 L571.6 538.9 L571.9 537.2 L572.2 538.6 L572.5 537.2 L572.8 538.5 L573.1 537.0 L573.4 538.2 L573.7 537.0 L574.0 538.3 L574.3 536.7 L574.6 537.9 L574.9 536.5 L575.2 537.8 L575.5 536.3 L575.8 537.7 L576.1 536.0 L576.4 537.4 L576.7 535.7 L577.0 536.6 L577.3 535.9 L577.6 537.6 L577.9 536.5 L578.2 538.5 L578.5 537.0 L578.8 538.7 L579.1 537.5 L579.4 539.5 L579.7 538.4 L580.0 539.7 L580.3 538.6 L580.6 540.5 L580.9 539.4 L581.2 540.8 L581.5 540.0 L581.8 541.4 L582.1 540.3 L582.4 541.4 L582.7 540.5 L583.1 541.4 L583.4 539.7 L583.7 541.2 L584.0 539.6 L584.3 540.8 L584.6 538.9 L584.9 540.3 L585.2 538.4 L585.5 539.8 L585.8 537.8 L586.1 539.3 L586.4 537.6 L586.7 538.8 L587.0 537.0 L587.3 538.3 L587.6 536.5 L587.9 537.0 L588.2 536.3 L588.5 538.3 L588.8 537.1 L589.2 538.7 L589.5 537.7 L589.8 539.3 L590.1 538.3 L590.4 539.8 L590.7 538.7 L591.0 540.3 L591.3 539.1 L591.6 540.8 L592.0 539.5 L592.3 541.1 L592.6 540.0 L592.9 541.8 L593.2 540.7 L593.5 542.4 L593.8 541.1 L594.1 542.8 L594.5 542.4 L594.8 543.0 L595.1 541.4 L595.4 542.8 L595.7 541.5 L596.0 542.9 L596.3 541.6 L596.6 542.8 L596.9 541.2 L597.2 542.8 L597.5 541.2 L597.8 542.7 L598.1 541.0 L598.4 542.4 L598.7 540.7 L599.0 542.0 L599.3 540.7 L599.6 542.2 L599.9 540.7 L600.2 542.1 L600.5 540.6 L600.8 541.9 L601.1 540.4 L601.4 541.9 L601.7 540.4 L602.0 541.6 L602.3 540.2 L602.6 541.5 L602.9 539.9 L603.2 541.3 L603.6 539.8 L603.9 541.2 L604.2 539.8 L604.5 541.1 L604.8 539.7 L605.1 541.2 L605.4 540.3 L605.7 540.9 L606.0 539.2 L606.3 540.6 L606.6 539.2 L606.9 540.3 L607.2 538.8 L607.5 540.3 L607.8 538.5 L608.1 539.8 L608.4 538.3 L608.7 539.9 L609.0 538.2 L609.3 539.3 L609.6 538.0 L609.9 539.1 L610.2 537.9 L610.5 539.3 L610.8 537.4 L611.1 538.9 L611.4 537.1 L611.7 538.8 L612.0 537.0 L612.3 538.5 L612.6 536.7 L612.9 538.3 L613.2 536.5 L613.5 538.0 L613.8 536.5 L614.1 537.0 L614.4 536.4 L614.7 538.2 L615.0 536.9 L615.3 538.5 L615.6 537.6 L615.9 539.0 L616.2 537.8 L616.5 539.8 L616.8 538.4 L617.1 540.1 L617.4 538.8 L617.7 540.7 L618.0 539.4 L618.4 541.0 L618.7 540.0 L619.0 541.5 L619.3 540.5 L619.6 541.4 L619.9 540.1 L620.2 541.0 L620.5 538.8 L620.8 539.7 L621.1 537.9 L621.4 538.6 L621.7 537.0 L622.0 537.9 L622.3 535.6 L622.6 536.8 L622.9 534.6 L623.2 535.4 L623.5 533.5 L623.8 534.5 L624.1 532.2 L624.4 533.6 L624.7 531.3 L625.0 531.5 L625.3 530.5 L625.6 531.7 L626.0 530.0 L626.3 531.4 L626.6 529.8 L626.9 530.9 L627.2 529.5 L627.5 530.8 L627.8 529.0 L628.1 530.5 L628.5 528.6 L628.8 530.1 L629.1 528.2 L629.4 529.2 L629.7 527.4 L630.0 528.9 L630.3 527.0 L630.6 528.5 L630.9 526.9 L631.3 528.4 L631.6 527.2 L631.9 528.4 L632.2 526.7 L632.5 529.1 L632.8 527.8 L633.1 529.6 L633.4 528.1 L633.8 530.2 L634.1 528.6 L634.4 530.7 L634.7 529.2 L635.0 531.5 L635.3 530.3 L635.6 531.8 L635.9 531.5 L636.3 532.0 L636.6 529.8 L636.9 531.0 L637.2 529.2 L637.5 530.5 L637.8 528.5 L638.1 529.8 L638.4 527.6 L638.7 528.7 L639.1 526.8 L639.4 528.1 L639.7 526.0 L640.0 527.4 L640.3 526.1 L640.6 526.9 L640.9 525.2 L641.2 527.2 L641.6 525.5 L641.9 527.5 L642.2 525.9 L642.5 527.6 L642.8 525.9 L643.1 528.1 L643.4 526.1 L643.7 528.1 L644.0 526.6 L644.4 528.1 L644.7 526.4 L645.0 528.6 L645.3 526.7 L645.6 528.6 L645.9 527.0 L646.2 529.1 L646.5 527.1 L646.9 528.3 L647.2 527.7 L647.5 529.8 L647.8 528.6 L648.1 530.8 L648.4 529.4 L648.7 531.5 L649.0 530.1 L649.4 532.4 L649.7 530.8 L650.0 532.9 L650.3 532.0 L650.6 533.6 L650.9 532.6 L651.2 533.7 L651.5 532.0 L651.8 533.0 L652.2 530.1 L652.5 530.9 L652.8 528.4 L653.1 529.6 L653.4 526.7 L653.7 527.8 L654.0 525.2 L654.3 526.2 L654.7 523.2 L655.0 524.4 L655.3 521.4 L655.6 521.7 L655.9 520.7 L656.2 522.1 L656.5 520.3 L656.8 522.2 L657.1 520.1 L657.5 521.8 L657.8 519.4 L658.1 521.3 L658.4 519.3 L658.7 521.2 L659.0 519.1 L659.3 520.6 L659.6 518.9 L660.0 520.6 L660.3 518.2 L660.6 520.1 L660.9 518.3 L661.2 520.0 L661.5 517.6 L661.8 519.4 L662.1 518.4 L662.5 519.7 L662.8 517.9 L663.1 519.3 L663.4 518.1 L663.7 520.2 L664.0 518.2 L664.3 520.1 L664.7 518.3 L665.0 519.8 L665.3 518.2 L665.6 520.0 L665.9 518.0 L666.2 519.8 L666.5 517.9 L666.8 519.7 L667.2 517.9 L667.5 519.3 L667.8 517.3 L668.1 519.4 L668.4 517.7 L668.7 519.5 L669.0 517.2 L669.3 519.1 L669.7 518.3 L670.0 519.5 L670.3 517.8 L670.6 519.9 L670.9 518.5 L671.2 520.1 L671.5 518.4 L671.8 521.0 L672.1 519.2 L672.5 521.3 L672.8 519.8 L673.1 521.9 L673.4 520.2 L673.7 522.5 L674.0 521.5 L674.3 522.5 L674.6 520.1 L675.0 522.3 L675.3 520.1 L675.6 521.4 L675.9 519.8 L676.2 521.2 L676.5 519.6 L676.8 520.8 L677.1 519.0 L677.4 521.0 L677.8 518.7 L678.1 520.7 L678.4 519.3 L678.7 520.9 L679.0 519.5 L679.3 521.6 L679.6 520.1 L679.9 522.2 L680.2 520.7 L680.5 523.1 L680.8 521.7 L681.1 524.1 L681.4 522.4 L681.7 525.0 L682.0 523.5 L682.3 524.8 L682.6 523.1 L682.9 523.8 L683.3 521.1 L683.6 522.6 L683.9 519.7 L684.2 520.4 L684.5 518.0 L684.8 518.8 L685.1 515.9 L685.4 517.5 L685.7 514.2 L686.1 515.3 L686.4 512.5 L686.7 512.8 L687.0 512.1 L687.3 514.9 L687.6 512.9 L687.9 515.5 L688.2 514.4 L688.5 516.8 L688.8 514.9 L689.1 517.7 L689.4 516.2 L689.7 518.6 L690.0 516.9 L690.3 519.3 L690.6 518.1 L690.9 520.3 L691.2 519.2 L691.5 520.4 L691.8 519.2 L692.1 520.6 L692.4 518.7 L692.7 520.0 L693.0 517.9 L693.3 519.3 L693.6 517.2 L693.9 518.8 L694.2 517.0 L694.5 518.6 L694.8 516.3 L695.1 518.0 L695.4 515.3 L695.7 517.4 L696.0 515.1 L696.3 516.6 L696.6 514.5 L696.9 515.0 L697.3 513.5 L697.6 515.7 L697.9 513.1 L698.2 514.9 L698.5 512.7 L698.8 514.6 L699.1 512.1 L699.4 514.0 L699.8 511.8 L700.1 513.3 L700.4 511.3 L700.7 513.0 L701.0 510.5 L701.3 512.2 L701.6 509.8 L701.9 511.7 L702.2 509.6 L702.6 511.2 L702.9 509.1 L703.2 511.1 L703.5 509.5 L703.8 510.3 L704.1 508.3 L704.4 510.1 L704.7 507.9 L705.1 510.1 L705.4 507.7 L705.7 509.8 L706.0 507.5 L706.3 509.5 L706.6 506.8 L706.9 508.7 L707.2 506.6 L707.5 508.5 L707.9 506.4 L708.2 508.1 L708.5 506.0 L708.8 508.3 L709.1 505.3 L709.4 507.9 L709.7 505.6 L710.0 506.2 L710.4 505.7 L710.7 508.4 L711.0 506.6 L711.3 509.0 L711.6 507.2 L711.9 510.0 L712.2 508.2 L712.5 510.6 L712.9 508.8 L713.2 511.0 L713.5 509.8 L713.8 512.2 L714.1 510.2 L714.4 511.7 L714.7 510.6 L715.0 512.2 L715.3 509.7 L715.6 511.6 L715.9 509.4 L716.2 511.1 L716.5 509.1 L716.8 511.0 L717.1 508.3 L717.4 510.2 L717.7 508.2 L718.0 509.6 L718.4 507.4 L718.7 509.4 L719.0 507.1 L719.3 508.7 L719.6 506.4 L719.9 507.3 L720.2 505.7 L720.5 507.8 L720.8 504.9 L721.1 506.6 L721.4 504.4 L721.7 506.1 L722.0 503.3 L722.3 505.2 L722.6 502.7 L722.9 504.4 L723.2 501.6 L723.5 503.6 L723.8 500.4 L724.1 502.6 L724.4 500.1 L724.7 502.0 L725.0 499.0 L725.3 499.7 L725.6 498.9 L725.9 502.0 L726.2 500.7 L726.5 503.7 L726.8 502.0 L727.1 504.6 L727.5 503.3 L727.8 506.2 L728.1 504.9 L728.4 507.5 L728.7 506.0 L729.0 508.8 L729.3 507.5 L729.6 510.2 L729.9 508.4 L730.2 511.7 L730.5 510.1 L730.8 511.7 L731.1 509.3 L731.3 510.2 L731.6 506.8 L731.9 507.6 L732.2 504.2 L732.4 505.8 L732.7 502.0 L733.0 501.9 L733.3 501.0 L733.6 503.7 L733.9 501.6 L734.2 503.9 L734.5 501.9 L734.8 504.7 L735.1 503.1 L735.4 505.2 L735.7 503.6 L736.0 506.2 L736.3 504.4 L736.6 506.4 L736.9 504.6 L737.2 507.0 L737.5 505.6 L737.8 507.9 L738.1 505.9 L738.4 507.3 L738.7 505.7 L739.1 507.6 L739.4 505.1 L739.7 506.8 L740.0 503.7 L740.3 505.4 L740.6 503.2 L740.9 504.7 L741.2 502.0 L741.5 503.7 L741.9 501.3 L742.2 502.8 L742.5 500.3 L742.8 500.8 L743.1 500.3 L743.4 503.6 L743.7 502.1 L744.0 504.9 L744.3 503.1 L744.6 506.1 L744.9 504.6 L745.2 508.0 L745.5 506.3 L745.8 509.1 L746.1 507.5 L746.4 510.6 L746.7 509.2 L747.0 512.3 L747.3 510.5 L747.6 513.4 L748.0 512.3 L748.3 513.9 L748.6 512.3 L748.9 513.5 L749.2 510.4 L749.5 512.3 L749.8 509.1 L750.1 510.9 L750.4 507.7 L750.7 509.1 L751.1 506.5 L751.4 508.3 L751.7 504.8 L752.0 506.4 L752.3 503.7 L752.6 504.1 L752.9 503.1 L753.2 505.6 L753.6 503.6 L753.9 505.8 L754.2 504.2 L754.5 506.6 L754.8 504.9 L755.1 506.8 L755.4 504.8 L755.7 507.7 L756.1 505.2 L756.4 508.1 L756.7 505.8 L757.0 507.3 L757.3 505.8 L757.6 508.4 L757.9 506.1 L758.2 507.9 L758.5 505.6 L758.9 507.6 L759.2 505.3 L759.5 507.2 L759.8 504.5 L760.1 507.0 L760.4 504.7 L760.7 506.6 L761.0 504.2 L761.4 505.2 L761.7 504.0 L762.0 506.6 L762.3 504.8 L762.7 507.2 L763.0 505.4 L763.3 507.6 L763.6 505.3 L764.0 508.0 L764.3 506.2 L764.6 507.3 L764.9 505.8 L765.3 507.5 L765.6 505.0 L765.9 506.3 L766.2 504.1 L766.5 505.5 L766.8 503.0 L767.1 504.6 L767.4 502.1 L767.7 503.5 L768.1 501.0 L768.4 503.1 L768.7 500.0 L769.0 500.8 L769.3 499.5 L769.6 501.9 L769.9 499.6 L770.2 501.9 L770.5 499.3 L770.8 501.6 L771.1 499.1 L771.4 501.5 L771.7 499.2 L772.0 501.2 L772.3 499.1 L772.6 501.2 L772.9 498.9 L773.2 501.2 L773.5 499.0 L773.8 500.9 L774.2 498.3 L774.5 499.7 L774.8 498.9 L775.1 501.4 L775.4 499.2 L775.7 501.7 L776.0 499.4 L776.3 502.1 L776.6 500.0 L776.9 502.5 L777.3 500.9 L777.6 503.4 L777.9 501.2 L778.2 503.4 L778.5 501.7 L778.8 503.0 L779.1 501.3 L779.4 503.2 L779.8 500.4 L780.1 501.8 L780.4 498.7 L780.7 501.0 L781.0 498.2 L781.3 499.7 L781.6 497.0 L781.9 498.8 L782.3 495.7 L782.6 497.9 L782.9 494.4 L783.2 495.3 L783.5 494.2 L783.8 497.0 L784.1 494.3 L784.4 497.2 L784.7 494.7 L785.0 497.5 L785.3 494.8 L785.6 497.8 L785.9 495.5 L786.2 498.0 L786.5 495.8 L786.8 498.2 L787.1 495.6 L787.4 498.2 L787.7 495.6 L788.0 498.5 L788.3 496.2 L788.6 497.5 L789.0 495.9 L789.3 498.5 L789.6 495.5 L789.9 497.7 L790.2 495.1 L790.5 497.3 L790.8 494.5 L791.1 496.7 L791.5 494.2 L791.8 496.5 L792.1 493.8 L792.4 495.8 L792.7 493.0 L793.0 494.2 L793.3 493.0 L793.6 496.0 L793.9 493.8 L794.2 496.2 L794.5 494.4 L794.8 496.7 L795.1 494.6 L795.4 497.5 L795.7 495.5 L796.0 498.2 L796.3 495.8 L796.7 498.6 L797.0 495.9 L797.3 499.2 L797.6 496.9 L797.9 499.3 L798.2 496.9 L798.5 498.6 L798.8 497.6 L799.1 499.2 L799.4 496.9 L799.7 499.2 L800.0 496.3 L800.3 499.1 L800.7 496.3 L801.0 498.9 L801.3 496.0 L801.6 498.3 L801.9 495.5 L802.2 497.9 L802.5 495.5 L802.8 496.4 L803.1 494.6 L803.4 496.5 L803.7 493.2 L804.1 495.6 L804.4 492.4 L804.7 494.1 L805.0 491.4 L805.3 493.3 L805.6 490.2 L805.9 492.3 L806.2 488.8 L806.5 491.5 L806.8 488.0 L807.1 490.0 L807.4 486.8 L807.7 489.4 L808.0 485.9 L808.3 486.6 L808.6 485.0 L808.9 487.7 L809.2 484.8 L809.5 486.8 L809.8 483.7 L810.1 486.8 L810.4 483.5 L810.7 485.7 L811.0 482.7 L811.3 485.7 L811.6 482.3 L811.9 485.4 L812.2 481.8 L812.5 484.5 L812.8 481.8 L813.1 483.9 L813.5 481.1 L813.8 482.2 L814.1 480.4 L814.4 482.5 L814.7 479.8 L815.0 482.0 L815.3 478.6 L815.6 481.0 L815.9 477.4 L816.2 480.4 L816.5 477.4 L816.8 479.3 L817.1 475.9 L817.4 478.4 L817.7 475.1 L818.0 477.3 L818.3 474.6 L818.6 477.2 L818.9 473.5 L819.2 474.6 L819.5 473.0 L819.8 476.0 L820.1 473.3 L820.5 476.4 L820.8 473.7 L821.1 476.7 L821.4 473.6 L821.7 477.1 L822.0 473.8 L822.3 476.8 L822.6 474.3 L823.0 476.7 L823.3 473.9 L823.6 475.7 L823.8 473.3 L824.1 474.4 L824.3 470.8 L824.6 472.4 L824.8 467.8 L825.0 470.1 L825.3 465.3 L825.5 467.2 L825.8 464.8 L826.1 466.0 L826.4 463.2 L826.7 466.5 L827.0 463.5 L827.3 466.8 L827.6 464.2 L827.9 467.0 L828.2 464.5 L828.5 467.8 L828.8 464.3 L829.1 467.5 L829.4 464.7 L829.7 467.8 L830.0 465.3 L830.3 468.5 L830.6 465.1 L830.9 468.8 L831.2 466.9 L831.4 467.2 L831.5 462.8 L831.6 464.6 L831.8 460.8 L831.9 462.9 L832.0 457.6 L832.2 459.8 L832.3 457.1 L832.8 458.2 L833.1 456.9 L833.4 461.6 L833.7 458.9 L834.1 462.8 L834.4 459.7 L834.7 464.1 L835.0 461.1 L835.3 465.2 L835.6 463.1 L835.9 467.0 L836.2 464.6 L836.5 466.7 L836.9 464.5 L837.2 467.1 L837.5 462.8 L837.8 465.5 L838.1 461.5 L838.4 463.5 L838.7 459.9 L839.0 462.0 L839.4 457.8 L839.7 460.6 L840.0 456.7 L840.3 459.0 L840.6 455.2 L840.9 457.8 L841.2 455.4 L841.5 457.3 L841.9 454.7 L842.2 457.5 L842.5 454.4 L842.8 458.2 L843.1 455.5 L843.4 458.6 L843.7 456.0 L844.0 459.1 L844.3 456.7 L844.7 460.0 L845.0 456.9 L845.3 460.0 L845.6 457.1 L845.9 459.2 L846.2 457.1 L846.5 459.1 L846.8 454.8 L847.2 457.4 L847.5 453.6 L847.8 456.5 L848.1 451.7 L848.4 454.3 L848.7 450.6 L849.0 453.4 L849.3 449.0 L849.6 449.8 L850.0 446.6 L850.3 449.4 L850.6 444.7 L850.9 447.9 L851.2 443.6 L851.5 446.0 L851.8 441.8 L852.1 444.4 L852.5 439.8 L852.8 442.8 L853.1 437.5 L853.4 438.6 L853.7 436.1 L854.0 438.9 L854.3 434.5 L854.6 437.5 L855.0 432.8 L855.3 436.0 L855.6 431.8 L855.9 435.1 L856.2 430.7 L856.5 434.0 L856.8 429.2 L857.1 432.5 L857.4 427.6 L857.8 430.8 L858.1 428.3 L858.1 431.4 L858.2 429.2 L858.3 433.5 L858.3 430.8 L858.4 436.1 L858.5 433.4 L858.5 438.2 L858.6 436.0 L858.7 440.9 L858.7 438.5 L858.8 443.2 L858.9 441.4 L858.9 445.6 L859.0 443.6 L859.1 447.8 L859.1 445.5 L859.2 450.3 L859.3 448.3 L859.3 453.3 L859.4 450.3 L859.5 455.7 L859.5 452.7 L859.6 457.3 L859.7 455.7 L859.7 459.6 L859.8 457.8 L859.9 462.6 L859.9 462.0 L860.3 462.5 L860.6 458.5 L860.9 461.0 L861.2 456.4 L861.5 458.7 L861.8 454.3 L862.1 457.0 L862.4 452.7 L862.7 455.0 L863.1 451.3 L863.4 453.9 L863.7 448.8 L864.0 451.8 L864.3 447.6 L864.6 447.9 L864.9 446.0 L865.2 448.2 L865.6 444.6 L865.9 447.1 L866.2 443.1 L866.5 445.5 L866.8 441.9 L867.1 445.0 L867.4 440.8 L867.7 443.9 L868.0 439.1 L868.4 442.6 L868.7 438.2 L869.0 441.0 L869.3 436.5 L869.6 439.7 L869.9 436.0 L870.2 436.7 L870.5 435.6 L870.9 441.2 L871.2 438.4 L871.5 442.6 L871.8 440.1 L872.1 445.4 L872.4 443.2 L872.7 447.2 L873.0 445.4 L873.4 450.0 L873.7 447.6 L874.0 452.4 L874.3 449.3 L874.6 453.8 L874.9 453.6 L875.2 454.3 L875.5 449.6 L875.8 452.1 L876.1 446.8 L876.4 449.3 L876.7 445.2 L877.0 447.7 L877.2 442.5 L877.5 445.3 L877.8 439.8 L878.1 442.8 L878.4 437.3 L878.7 440.4 L879.0 435.3 L879.3 437.4 L879.6 434.9 L879.9 438.0 L880.2 435.0 L880.5 439.8 L880.8 436.5 L881.1 441.3 L881.5 438.7 L881.8 443.2 L882.1 440.8 L882.4 446.0 L882.7 443.3 L883.0 447.7 L883.3 444.5 L883.6 449.8 L884.0 447.0 L884.3 449.8 L884.6 448.7 L884.9 451.9 L885.2 449.3 L885.5 453.0 L885.8 450.2 L886.1 453.6 L886.4 451.1 L886.8 454.8 L887.1 451.3 L887.4 455.0 L887.7 452.5 L888.0 456.0 L888.3 453.0 L888.6 457.2 L888.9 455.4 L889.3 456.1 L889.6 452.1 L889.9 454.9 L890.2 450.5 L890.5 452.8 L890.8 448.5 L891.1 451.3 L891.4 446.5 L891.8 449.5 L892.1 445.1 L892.4 447.7 L892.7 442.9 L893.0 445.7 L893.3 440.9 L893.6 444.4 L893.9 439.8 L894.2 442.1 L894.6 439.5 L894.9 442.0 L895.2 439.4 L895.5 443.1 L895.8 440.8 L896.1 444.7 L896.4 441.8 L896.7 446.4 L897.1 443.9 L897.4 446.1 L897.7 443.7 L898.0 446.4 L898.3 442.1 L898.6 444.6 L898.9 440.9 L899.2 442.9 L899.5 438.4 L899.9 442.2 L900.2 437.9 L900.5 440.7 L900.8 435.4 L901.1 439.1 L901.4 434.9 L901.7 437.5 L902.0 434.9 L902.4 437.3 L902.7 434.5 L903.0 438.7 L903.3 436.0 L903.6 440.3 L903.9 436.5 L904.2 441.2 L904.5 437.5 L904.9 440.5 L905.2 439.1 L905.5 443.3 L905.8 440.8 L906.1 444.4 L906.4 442.2 L906.7 446.3 L907.0 442.6 L907.3 447.1 L907.7 444.6 L908.0 448.6 L908.3 445.2 L908.6 450.2 L908.9 447.1 L909.2 451.3 L909.5 449.8 L909.8 450.7 L910.0 445.4 L910.3 447.9 L910.6 443.5 L910.8 446.0 L911.1 441.0 L911.3 443.2 L911.6 438.3 L911.9 440.8 L912.1 435.6 L912.4 438.3 L912.6 434.1 L912.9 436.3 L913.2 431.0 L913.4 434.2 L913.7 428.5 L913.9 432.0 L914.2 428.3 L914.5 431.7 L914.8 428.0 L915.1 432.9 L915.5 430.1 L915.8 434.3 L916.1 431.4 L916.4 435.8 L916.7 433.0 L917.0 437.6 L917.3 435.0 L917.6 440.2 L917.9 438.6 L918.3 438.9 L918.6 434.9 L918.9 437.1 L919.2 432.5 L919.5 435.2 L919.8 430.5 L920.1 433.1 L920.4 427.2 L920.8 430.8 L921.1 425.4 L921.4 428.0 L921.7 422.9 L922.0 426.1 L922.3 420.9 L922.6 421.8 L922.9 419.5 L923.3 423.2 L923.6 418.5 L923.9 423.0 L924.2 417.6 L924.5 421.6 L924.8 417.7 L925.1 421.3 L925.4 416.7 L925.7 420.6 L926.1 416.6 L926.4 419.6 L926.7 415.8 L927.0 419.5 L927.3 414.3 L927.6 419.4 L927.9 413.8 L928.2 416.1 L928.6 414.1 L928.9 420.3 L929.2 416.0 L929.5 421.5 L929.8 418.1 L930.1 422.7 L930.4 418.8 L930.7 423.6 L931.0 420.3 L931.4 425.8 L931.7 421.8 L932.0 424.6 L932.3 421.4 L932.6 424.6 L932.9 420.0 L933.2 423.6 L933.5 418.6 L933.9 421.0 L934.2 416.0 L934.5 419.6 L934.8 415.0 L935.1 418.1 L935.4 412.8 L935.7 416.2 L936.0 411.0 L936.3 414.4 L936.7 409.0 L937.0 412.5 L937.3 407.8 L937.6 408.7 L937.9 408.0 L938.2 413.7 L938.5 409.9 L938.8 415.0 L939.2 411.9 L939.5 417.5 L939.8 415.2 L940.1 420.2 L940.4 417.4 L940.7 422.4 L941.0 419.4 L941.3 422.7 L941.7 420.5 L942.0 424.0 L942.3 419.8 L942.6 423.1 L942.9 418.3 L943.2 421.7 L943.5 417.6 L943.8 420.8 L944.1 416.7 L944.5 420.9 L944.8 415.7 L945.1 419.9 L945.4 414.5 L945.7 418.2 L946.0 416.1 L946.3 418.1 L946.6 411.9 L947.0 415.2 L947.3 410.0 L947.6 413.8 L947.9 409.1 L948.2 412.9 L948.5 406.8 L948.8 410.9 L949.1 405.6 L949.4 409.2 L949.8 404.0 L950.1 406.7 L950.4 401.8 L950.7 403.0 L951.0 402.1 L951.3 406.9 L951.6 403.2 L951.9 407.9 L952.3 404.0 L952.6 409.4 L952.9 405.2 L953.2 411.1 L953.5 406.6 L953.8 412.4 L954.1 408.0 L954.4 411.5 L954.6 407.5 L954.8 410.9 L954.9 405.3 L955.1 408.7 L955.2 402.8 L955.4 406.7 L955.5 400.3 L955.7 403.6 L955.8 398.4 L956.0 402.0 L956.2 395.2 L956.3 399.6 L956.5 394.0 L956.6 397.0 L956.8 391.5 L956.9 394.5 L957.1 388.2 L957.2 391.5 L957.4 385.6 L957.6 389.9 L957.7 384.1 L957.9 386.8 L958.0 381.4 L958.2 382.5 L958.3 380.9 L958.5 387.3 L958.7 384.3 L958.8 389.0 L959.0 386.8 L959.2 392.5 L959.3 389.1 L959.5 394.6 L959.6 391.4 L959.8 397.2 L960.0 393.7 L960.1 398.9 L960.3 395.5 L960.5 401.9 L960.6 398.2 L960.8 404.7 L960.9 400.3 L961.1 406.1 L961.3 403.6 L961.4 408.7 L961.6 405.8 L961.8 412.0 L961.9 410.5 L962.1 411.9 L962.3 406.4 L962.4 408.7 L962.6 402.9 L962.8 406.9 L962.9 401.0 L963.1 404.2 L963.3 398.8 L963.5 402.2 L963.6 396.0 L963.8 399.8 L964.0 393.2 L964.1 396.2 L964.3 391.2 L964.5 394.0 L964.6 387.9 L964.8 392.0 L965.0 386.6 L965.2 389.0 L965.3 383.7 L965.5 386.9 L965.7 383.4 L966.0 387.0 L966.3 383.5 L966.6 388.9 L966.9 386.3 L967.2 391.5 L967.5 388.2 L967.8 393.1 L968.2 390.3 L968.5 393.7 L968.8 389.5 L969.1 392.9 L969.4 388.1 L969.7 391.2 L970.0 385.4 L970.3 388.2 L970.7 382.6 L971.0 385.7 L971.3 380.0 L971.6 383.6 L971.9 377.0 L972.2 378.7 L972.5 376.9 L972.7 382.8 L973.0 379.9 L973.2 386.2 L973.5 381.8 L973.7 388.6 L974.0 384.5 L974.3 390.7 L974.5 387.3 L974.8 392.7 L975.0 391.8"/>
</g>
<!-- /data -->
<!-- y labels -->
<text class="s" x="30.4" y="122.0" font-size="16.2" textLength="29.3" lengthAdjust="spacingAndGlyphs">600</text>
<text class="s" x="30.3" y="282.4" font-size="16.2" textLength="29.6" lengthAdjust="spacingAndGlyphs">400</text>
<text class="s" x="31.2" y="441.8" font-size="16" textLength="28.7" lengthAdjust="spacingAndGlyphs">200</text>
<text class="s" x="50.4" y="602.1" font-size="16.2" textLength="9.5" lengthAdjust="spacingAndGlyphs">0</text>
<text class="s" transform="translate(17.2,376.8) rotate(-90)" font-size="18" textLength="50" lengthAdjust="spacingAndGlyphs">Gbit/s</text>
<!-- x labels -->
<g>
<text class="s" x="216" y="627.7" font-size="16" textLength="35.7" lengthAdjust="spacingAndGlyphs">2012</text>
<text class="s" x="382" y="627.7" font-size="16" textLength="35.7" lengthAdjust="spacingAndGlyphs">2014</text>
<text class="s" x="549" y="627.7" font-size="16" textLength="36" lengthAdjust="spacingAndGlyphs">2016</text>
<text class="s" x="714.1" y="627.7" font-size="16" textLength="35.7" lengthAdjust="spacingAndGlyphs">2018</text>
<text class="s" x="877.2" y="627.7" font-size="16" textLength="38.6" lengthAdjust="spacingAndGlyphs">2020</text>
</g>
</svg>
</body>
</html>
